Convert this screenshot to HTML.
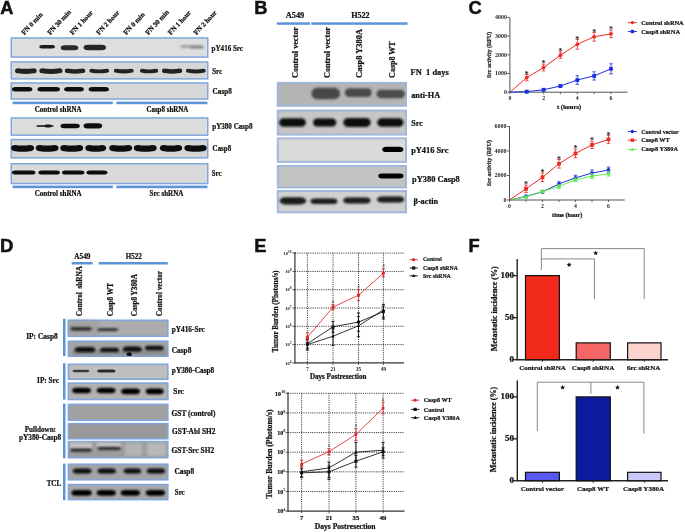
<!DOCTYPE html>
<html><head><meta charset="utf-8"><style>
html,body{margin:0;padding:0;background:#fff;}
svg{display:block;filter:blur(0.3px);}
</style></head><body>
<svg width="685" height="532" viewBox="0 0 685 532">
<defs><filter id="b3" x="-20%" y="-60%" width="140%" height="220%"><feGaussianBlur stdDeviation="0.3"/></filter><filter id="b4" x="-20%" y="-60%" width="140%" height="220%"><feGaussianBlur stdDeviation="0.4"/></filter><filter id="b5" x="-20%" y="-60%" width="140%" height="220%"><feGaussianBlur stdDeviation="0.5"/></filter><filter id="b6" x="-20%" y="-60%" width="140%" height="220%"><feGaussianBlur stdDeviation="0.6"/></filter><filter id="b7" x="-20%" y="-60%" width="140%" height="220%"><feGaussianBlur stdDeviation="0.7"/></filter><filter id="b8" x="-20%" y="-60%" width="140%" height="220%"><feGaussianBlur stdDeviation="0.8"/></filter><filter id="b9" x="-20%" y="-60%" width="140%" height="220%"><feGaussianBlur stdDeviation="0.9"/></filter><filter id="b10" x="-20%" y="-60%" width="140%" height="220%"><feGaussianBlur stdDeviation="1.0"/></filter><filter id="b11" x="-20%" y="-60%" width="140%" height="220%"><feGaussianBlur stdDeviation="1.1"/></filter><filter id="b12" x="-20%" y="-60%" width="140%" height="220%"><feGaussianBlur stdDeviation="1.2"/></filter><filter id="b13" x="-20%" y="-60%" width="140%" height="220%"><feGaussianBlur stdDeviation="1.3"/></filter><filter id="b14" x="-20%" y="-60%" width="140%" height="220%"><feGaussianBlur stdDeviation="1.4"/></filter><filter id="b15" x="-20%" y="-60%" width="140%" height="220%"><feGaussianBlur stdDeviation="1.5"/></filter><filter id="b16" x="-20%" y="-60%" width="140%" height="220%"><feGaussianBlur stdDeviation="1.6"/></filter><filter id="b17" x="-20%" y="-60%" width="140%" height="220%"><feGaussianBlur stdDeviation="1.7"/></filter><filter id="b18" x="-20%" y="-60%" width="140%" height="220%"><feGaussianBlur stdDeviation="1.8"/></filter><filter id="b19" x="-20%" y="-60%" width="140%" height="220%"><feGaussianBlur stdDeviation="1.9"/></filter><filter id="b20" x="-20%" y="-60%" width="140%" height="220%"><feGaussianBlur stdDeviation="2.0"/></filter></defs>
<rect width="685" height="532" fill="#fff"/>
<text x="0.2" y="13.5" font-family="'Liberation Sans', sans-serif" font-size="18.2" font-weight="bold" text-anchor="start" fill="#111" stroke="#111" stroke-width="0.5">A</text>
<text transform="translate(24.2,35.2) rotate(-47)" font-family="'Liberation Serif', serif" font-size="6.9" font-weight="bold" text-anchor="start" fill="#111" stroke="#111" stroke-width="0.22">FN 0 min</text>
<text transform="translate(50.2,35.2) rotate(-47)" font-family="'Liberation Serif', serif" font-size="6.9" font-weight="bold" text-anchor="start" fill="#111" stroke="#111" stroke-width="0.22">FN 30 min</text>
<text transform="translate(72.7,35.2) rotate(-47)" font-family="'Liberation Serif', serif" font-size="6.9" font-weight="bold" text-anchor="start" fill="#111" stroke="#111" stroke-width="0.22">FN 1 hour</text>
<text transform="translate(99.10000000000001,35.2) rotate(-47)" font-family="'Liberation Serif', serif" font-size="6.9" font-weight="bold" text-anchor="start" fill="#111" stroke="#111" stroke-width="0.22">FN 2 hour</text>
<text transform="translate(126.2,35.2) rotate(-47)" font-family="'Liberation Serif', serif" font-size="6.9" font-weight="bold" text-anchor="start" fill="#111" stroke="#111" stroke-width="0.22">FN 0 min</text>
<text transform="translate(148.2,35.2) rotate(-47)" font-family="'Liberation Serif', serif" font-size="6.9" font-weight="bold" text-anchor="start" fill="#111" stroke="#111" stroke-width="0.22">FN 30 min</text>
<text transform="translate(170.79999999999998,35.2) rotate(-47)" font-family="'Liberation Serif', serif" font-size="6.9" font-weight="bold" text-anchor="start" fill="#111" stroke="#111" stroke-width="0.22">FN 1 hour</text>
<text transform="translate(196.5,35.2) rotate(-47)" font-family="'Liberation Serif', serif" font-size="6.9" font-weight="bold" text-anchor="start" fill="#111" stroke="#111" stroke-width="0.22">FN 2 hour</text>
<rect x="11.25" y="37.95" width="196.5" height="19.099999999999994" fill="#dedede" stroke="#80a6dc" stroke-width="1.5"/>
<rect x="39.20" y="45.00" width="15.90" height="3.4" rx="2.72" ry="1.70" fill="#1c1c1c" opacity="1" filter="url(#b6)"/>
<rect x="60.70" y="45.30" width="17.60" height="5.0" rx="4.00" ry="2.50" fill="#2a2a2a" opacity="1" filter="url(#b7)"/>
<rect x="83.60" y="44.70" width="22.40" height="5.6" rx="4.48" ry="2.80" fill="#262626" opacity="1" filter="url(#b7)"/>
<rect x="180.30" y="45.30" width="12.40" height="2.4" rx="1.92" ry="1.20" fill="#9a9a9a" opacity="1" filter="url(#b10)"/>
<rect x="190.30" y="45.50" width="13.40" height="3" rx="2.40" ry="1.50" fill="#808080" opacity="1" filter="url(#b10)"/>
<rect x="11.25" y="61.95" width="196.5" height="16.89999999999999" fill="#d6d6d6" stroke="#80a6dc" stroke-width="1.5"/>
<path d="M18.12,68.15 Q25.85,69.55 33.58,68.15 A3.12,2.60 0 0 1 33.58,73.35 Q25.85,74.75 18.12,73.35 A3.12,2.60 0 0 1 18.12,68.15 Z" fill="#232323" filter="url(#b7)"/>
<path d="M42.30,68.25 Q50.90,69.65 59.50,68.25 A3.00,2.50 0 0 1 59.50,73.25 Q50.90,74.65 42.30,73.25 A3.00,2.50 0 0 1 42.30,68.25 Z" fill="#232323" filter="url(#b7)"/>
<path d="M67.56,68.45 Q75.05,69.85 82.54,68.45 A2.76,2.30 0 0 1 82.54,73.05 Q75.05,74.45 67.56,73.05 A2.76,2.30 0 0 1 67.56,68.45 Z" fill="#232323" filter="url(#b7)"/>
<path d="M91.58,68.85 Q99.25,70.25 106.92,68.85 A2.28,1.90 0 0 1 106.92,72.65 Q99.25,74.05 91.58,72.65 A2.28,1.90 0 0 1 91.58,68.85 Z" fill="#232323" filter="url(#b7)"/>
<path d="M116.32,68.65 Q123.80,70.05 131.28,68.65 A2.52,2.10 0 0 1 131.28,72.85 Q123.80,74.25 116.32,72.85 A2.52,2.10 0 0 1 116.32,68.65 Z" fill="#232323" filter="url(#b7)"/>
<path d="M142.18,68.85 Q149.10,70.25 156.02,68.85 A2.28,1.90 0 0 1 156.02,72.65 Q149.10,74.05 142.18,72.65 A2.28,1.90 0 0 1 142.18,68.85 Z" fill="#232323" filter="url(#b7)"/>
<path d="M164.76,68.45 Q172.10,69.85 179.44,68.45 A2.76,2.30 0 0 1 179.44,73.05 Q172.10,74.45 164.76,73.05 A2.76,2.30 0 0 1 164.76,68.45 Z" fill="#232323" filter="url(#b7)"/>
<path d="M188.30,68.75 Q195.85,70.15 203.40,68.75 A2.40,2.00 0 0 1 203.40,72.75 Q195.85,74.15 188.30,72.75 A2.40,2.00 0 0 1 188.30,68.75 Z" fill="#232323" filter="url(#b7)"/>
<rect x="11.25" y="82.95" width="196.5" height="16.099999999999994" fill="#d8d8d8" stroke="#80a6dc" stroke-width="1.5"/>
<rect x="12.00" y="87.10" width="20.30" height="4.4" rx="3.52" ry="2.20" fill="#0e0e0e" opacity="1" filter="url(#b7)"/>
<rect x="37.50" y="87.10" width="22.40" height="4.4" rx="3.52" ry="2.20" fill="#0e0e0e" opacity="1" filter="url(#b7)"/>
<rect x="64.20" y="87.10" width="19.60" height="4.4" rx="3.52" ry="2.20" fill="#0e0e0e" opacity="1" filter="url(#b7)"/>
<rect x="88.70" y="87.10" width="20.20" height="4.4" rx="3.52" ry="2.20" fill="#0e0e0e" opacity="1" filter="url(#b7)"/>
<rect x="12.6" y="101.6" width="100.2" height="2.6" fill="#5d93d8"/>
<rect x="116.4" y="101.6" width="91" height="2.6" fill="#5d93d8"/>
<text x="58.2" y="112.1" font-family="'Liberation Serif', serif" font-size="7.4" font-weight="bold" text-anchor="middle" fill="#111" textLength="47" lengthAdjust="spacingAndGlyphs" stroke="#111" stroke-width="0.22">Control shRNA</text>
<text x="167.4" y="112.1" font-family="'Liberation Serif', serif" font-size="7.4" font-weight="bold" text-anchor="middle" fill="#111" textLength="42" lengthAdjust="spacingAndGlyphs" stroke="#111" stroke-width="0.22">Casp8 shRNA</text>
<rect x="11.25" y="117.95" width="196.5" height="17.200000000000003" fill="#dcdcdc" stroke="#80a6dc" stroke-width="1.5"/>
<rect x="36.30" y="124.90" width="17.40" height="2.2" rx="1.76" ry="1.10" fill="#3a3a3a" opacity="1" filter="url(#b7)"/>
<rect x="44.30" y="124.60" width="7.40" height="2.8" rx="2.24" ry="1.40" fill="#151515" opacity="1" filter="url(#b7)"/>
<rect x="60.50" y="123.80" width="19.30" height="4.4" rx="3.52" ry="2.20" fill="#111" opacity="1" filter="url(#b6)"/>
<rect x="83.50" y="123.20" width="18.70" height="5.2" rx="4.16" ry="2.60" fill="#0e0e0e" opacity="1" filter="url(#b6)"/>
<rect x="11.25" y="139.55" width="196.5" height="18.299999999999983" fill="#d4d4d4" stroke="#80a6dc" stroke-width="1.5"/>
<path d="M15.44,145.00 Q22.60,146.20 29.76,145.00 A4.34,3.10 0 0 1 29.76,151.20 Q22.60,152.40 15.44,151.20 A4.34,3.10 0 0 1 15.44,145.00 Z" fill="#101010" filter="url(#b7)"/>
<path d="M40.04,145.00 Q47.15,146.20 54.26,145.00 A4.34,3.10 0 0 1 54.26,151.20 Q47.15,152.40 40.04,151.20 A4.34,3.10 0 0 1 40.04,145.00 Z" fill="#101010" filter="url(#b7)"/>
<path d="M64.54,145.00 Q71.70,146.20 78.86,145.00 A4.34,3.10 0 0 1 78.86,151.20 Q71.70,152.40 64.54,151.20 A4.34,3.10 0 0 1 64.54,145.00 Z" fill="#101010" filter="url(#b7)"/>
<path d="M89.64,145.00 Q95.75,146.20 101.86,145.00 A4.34,3.10 0 0 1 101.86,151.20 Q95.75,152.40 89.64,151.20 A4.34,3.10 0 0 1 89.64,145.00 Z" fill="#101010" filter="url(#b7)"/>
<path d="M113.54,145.00 Q120.70,146.20 127.86,145.00 A4.34,3.10 0 0 1 127.86,151.20 Q120.70,152.40 113.54,151.20 A4.34,3.10 0 0 1 113.54,145.00 Z" fill="#101010" filter="url(#b7)"/>
<path d="M138.14,145.00 Q145.25,146.20 152.36,145.00 A4.34,3.10 0 0 1 152.36,151.20 Q145.25,152.40 138.14,151.20 A4.34,3.10 0 0 1 138.14,145.00 Z" fill="#101010" filter="url(#b7)"/>
<path d="M164.14,145.00 Q171.00,146.20 177.86,145.00 A4.34,3.10 0 0 1 177.86,151.20 Q171.00,152.40 164.14,151.20 A4.34,3.10 0 0 1 164.14,145.00 Z" fill="#101010" filter="url(#b7)"/>
<path d="M188.64,145.00 Q195.50,146.20 202.36,145.00 A4.34,3.10 0 0 1 202.36,151.20 Q195.50,152.40 188.64,151.20 A4.34,3.10 0 0 1 188.64,145.00 Z" fill="#101010" filter="url(#b7)"/>
<rect x="11.25" y="163.75" width="196.5" height="19.80000000000001" fill="#dadada" stroke="#80a6dc" stroke-width="1.5"/>
<rect x="12.00" y="170.40" width="23.40" height="4.2" rx="3.36" ry="2.10" fill="#0a0a0a" opacity="1" filter="url(#b6)"/>
<rect x="38.40" y="170.40" width="21.50" height="4.2" rx="3.36" ry="2.10" fill="#0a0a0a" opacity="1" filter="url(#b6)"/>
<rect x="62.00" y="170.40" width="22.40" height="4.2" rx="3.36" ry="2.10" fill="#0a0a0a" opacity="1" filter="url(#b6)"/>
<rect x="86.50" y="170.40" width="20.90" height="4.2" rx="3.36" ry="2.10" fill="#0a0a0a" opacity="1" filter="url(#b6)"/>
<rect x="12.6" y="185.6" width="100.2" height="2.6" fill="#5d93d8"/>
<rect x="116.4" y="185.6" width="91" height="2.6" fill="#5d93d8"/>
<text x="58.2" y="196.2" font-family="'Liberation Serif', serif" font-size="7.4" font-weight="bold" text-anchor="middle" fill="#111" textLength="47" lengthAdjust="spacingAndGlyphs" stroke="#111" stroke-width="0.22">Control shRNA</text>
<text x="166.5" y="196.2" font-family="'Liberation Serif', serif" font-size="7.4" font-weight="bold" text-anchor="middle" fill="#111" textLength="34" lengthAdjust="spacingAndGlyphs" stroke="#111" stroke-width="0.22">Src shRNA</text>
<text x="211.6" y="50.9" font-family="'Liberation Serif', serif" font-size="7.6" font-weight="bold" text-anchor="start" fill="#111" textLength="31.4" lengthAdjust="spacingAndGlyphs" stroke="#111" stroke-width="0.22">pY416 Src</text>
<text x="212.2" y="74.3" font-family="'Liberation Serif', serif" font-size="7.6" font-weight="bold" text-anchor="start" fill="#111" textLength="9.8" lengthAdjust="spacingAndGlyphs" stroke="#111" stroke-width="0.22">Src</text>
<text x="212.6" y="94.3" font-family="'Liberation Serif', serif" font-size="7.6" font-weight="bold" text-anchor="start" fill="#111" textLength="19.2" lengthAdjust="spacingAndGlyphs" stroke="#111" stroke-width="0.22">Casp8</text>
<text x="212.2" y="128.8" font-family="'Liberation Serif', serif" font-size="7.6" font-weight="bold" text-anchor="start" fill="#111" textLength="40.4" lengthAdjust="spacingAndGlyphs" stroke="#111" stroke-width="0.22">pY380 Casp8</text>
<text x="212.6" y="151.2" font-family="'Liberation Serif', serif" font-size="7.6" font-weight="bold" text-anchor="start" fill="#111" textLength="18.6" lengthAdjust="spacingAndGlyphs" stroke="#111" stroke-width="0.22">Casp8</text>
<text x="211.8" y="176.2" font-family="'Liberation Serif', serif" font-size="7.6" font-weight="bold" text-anchor="start" fill="#111" textLength="9.6" lengthAdjust="spacingAndGlyphs" stroke="#111" stroke-width="0.22">Src</text>
<text x="254.2" y="13.7" font-family="'Liberation Sans', sans-serif" font-size="18.3" font-weight="bold" text-anchor="start" fill="#111" stroke="#111" stroke-width="0.5">B</text>
<text x="285.7" y="17.6" font-family="'Liberation Serif', serif" font-size="8" font-weight="bold" text-anchor="start" fill="#111" textLength="18.6" lengthAdjust="spacingAndGlyphs" stroke="#111" stroke-width="0.22">A549</text>
<text x="351.2" y="17.6" font-family="'Liberation Serif', serif" font-size="8" font-weight="bold" text-anchor="start" fill="#111" textLength="18.4" lengthAdjust="spacingAndGlyphs" stroke="#111" stroke-width="0.22">H522</text>
<rect x="276.8" y="22.3" width="33.2" height="2.5" fill="#5d93d8"/>
<rect x="311.3" y="22.3" width="96.2" height="2.5" fill="#5d93d8"/>
<text transform="translate(298,77.9) rotate(-90)" font-family="'Liberation Serif', serif" font-size="8.2" font-weight="bold" text-anchor="start" fill="#111" textLength="50.8" lengthAdjust="spacingAndGlyphs" stroke="#111" stroke-width="0.22">Control vector</text>
<text transform="translate(330.3,77.9) rotate(-90)" font-family="'Liberation Serif', serif" font-size="8.2" font-weight="bold" text-anchor="start" fill="#111" textLength="50.8" lengthAdjust="spacingAndGlyphs" stroke="#111" stroke-width="0.22">Control vector</text>
<text transform="translate(362.3,77.9) rotate(-90)" font-family="'Liberation Serif', serif" font-size="8.2" font-weight="bold" text-anchor="start" fill="#111" textLength="48.9" lengthAdjust="spacingAndGlyphs" stroke="#111" stroke-width="0.22">Casp8 Y380A</text>
<text transform="translate(394.5,77.9) rotate(-90)" font-family="'Liberation Serif', serif" font-size="8.2" font-weight="bold" text-anchor="start" fill="#111" textLength="36.6" lengthAdjust="spacingAndGlyphs" stroke="#111" stroke-width="0.22">Casp8 WT</text>
<text x="410.6" y="74.6" font-family="'Liberation Serif', serif" font-size="7.8" font-weight="bold" text-anchor="start" fill="#111" textLength="38.2" lengthAdjust="spacingAndGlyphs" stroke="#111" stroke-width="0.22">FN  1 days</text>
<rect x="277.75" y="82.85000000000001" width="128.29999999999998" height="22.999999999999993" fill="#b4b4b4" stroke="#9fb7da" stroke-width="1.9"/>
<rect x="311.40" y="87.70" width="28.70" height="11.6" rx="5.80" ry="5.80" fill="#474747" opacity="1" filter="url(#b8)"/>
<rect x="344.90" y="88.30" width="26.80" height="8.8" rx="4.40" ry="4.40" fill="#4a4a4a" opacity="1" filter="url(#b8)"/>
<rect x="376.50" y="89.80" width="28.40" height="8.4" rx="4.20" ry="4.20" fill="#4c4c4c" opacity="1" filter="url(#b8)"/>
<rect x="277.75" y="110.55" width="128.29999999999998" height="24.1" fill="#c6c6c6" stroke="#9fb7da" stroke-width="1.9"/>
<rect x="279.10" y="118.20" width="26.80" height="8.6" rx="4.73" ry="4.30" fill="#0a0a0a" opacity="1" filter="url(#b9)"/>
<rect x="313.10" y="118.40" width="23.20" height="8.2" rx="4.51" ry="4.10" fill="#0a0a0a" opacity="1" filter="url(#b9)"/>
<rect x="343.30" y="117.90" width="27.40" height="9.2" rx="5.06" ry="4.60" fill="#0a0a0a" opacity="1" filter="url(#b9)"/>
<rect x="377.20" y="118.20" width="26.30" height="8.6" rx="4.73" ry="4.30" fill="#0a0a0a" opacity="1" filter="url(#b9)"/>
<rect x="277.75" y="138.35" width="128.29999999999998" height="23.500000000000007" fill="#dadada" stroke="#9fb7da" stroke-width="1.9"/>
<rect x="382.30" y="146.80" width="21.00" height="5.2" rx="4.16" ry="2.60" fill="#050505" opacity="1" filter="url(#b7)"/>
<rect x="277.75" y="165.95" width="128.29999999999998" height="21.6" fill="#c3c3c3" stroke="#9fb7da" stroke-width="1.9"/>
<rect x="378.30" y="173.60" width="25.20" height="4.8" rx="3.84" ry="2.40" fill="#050505" opacity="1" filter="url(#b7)"/>
<rect x="277.75" y="190.95" width="128.29999999999998" height="21.400000000000013" fill="#d0d0d0" stroke="#9fb7da" stroke-width="1.9"/>
<rect x="279.60" y="197.20" width="26.60" height="7.2" rx="5.76" ry="3.60" fill="#1a1a1a" opacity="1" filter="url(#b10)"/>
<rect x="310.50" y="198.40" width="26.90" height="5.6" rx="4.48" ry="2.80" fill="#1a1a1a" opacity="1" filter="url(#b10)"/>
<rect x="343.30" y="197.40" width="27.20" height="6" rx="4.80" ry="3.00" fill="#1a1a1a" opacity="1" filter="url(#b10)"/>
<rect x="377.20" y="196.40" width="26.90" height="6" rx="4.80" ry="3.00" fill="#1a1a1a" opacity="1" filter="url(#b10)"/>
<text x="411.2" y="97.9" font-family="'Liberation Serif', serif" font-size="7.9" font-weight="bold" text-anchor="start" fill="#111" textLength="29" lengthAdjust="spacingAndGlyphs" stroke="#111" stroke-width="0.22">anti-HA</text>
<text x="411.2" y="125.6" font-family="'Liberation Serif', serif" font-size="7.9" font-weight="bold" text-anchor="start" fill="#111" textLength="11.6" lengthAdjust="spacingAndGlyphs" stroke="#111" stroke-width="0.22">Src</text>
<text x="411.2" y="152.8" font-family="'Liberation Serif', serif" font-size="7.9" font-weight="bold" text-anchor="start" fill="#111" textLength="37.2" lengthAdjust="spacingAndGlyphs" stroke="#111" stroke-width="0.22">pY416 Src</text>
<text x="412.1" y="182.4" font-family="'Liberation Serif', serif" font-size="7.9" font-weight="bold" text-anchor="start" fill="#111" textLength="47.7" lengthAdjust="spacingAndGlyphs" stroke="#111" stroke-width="0.22">pY380 Casp8</text>
<text x="413.5" y="203.6" font-family="'Liberation Serif', serif" font-size="7.9" font-weight="bold" text-anchor="start" fill="#111" textLength="24.6" lengthAdjust="spacingAndGlyphs" stroke="#111" stroke-width="0.22">β-actin</text>
<text x="-0.1" y="251.6" font-family="'Liberation Sans', sans-serif" font-size="18.5" font-weight="bold" text-anchor="start" fill="#111" stroke="#111" stroke-width="0.5">D</text>
<text x="74.3" y="259.3" font-family="'Liberation Serif', serif" font-size="7.3" font-weight="bold" text-anchor="start" fill="#111" textLength="16.1" lengthAdjust="spacingAndGlyphs" stroke="#111" stroke-width="0.22">A549</text>
<text x="125.7" y="259.3" font-family="'Liberation Serif', serif" font-size="7.3" font-weight="bold" text-anchor="start" fill="#111" textLength="16.1" lengthAdjust="spacingAndGlyphs" stroke="#111" stroke-width="0.22">H522</text>
<rect x="71.7" y="262" width="20.9" height="2.5" fill="#5d93d8"/>
<rect x="98.7" y="262" width="69.1" height="2.5" fill="#5d93d8"/>
<text transform="translate(81.9,316.2) rotate(-90)" font-family="'Liberation Serif', serif" font-size="7.2" font-weight="bold" text-anchor="start" fill="#111" textLength="50.2" lengthAdjust="spacingAndGlyphs" stroke="#111" stroke-width="0.22">Control  shRNA</text>
<text transform="translate(112.7,316.2) rotate(-90)" font-family="'Liberation Serif', serif" font-size="7.2" font-weight="bold" text-anchor="start" fill="#111" textLength="33.3" lengthAdjust="spacingAndGlyphs" stroke="#111" stroke-width="0.22">Casp8 WT</text>
<text transform="translate(136.7,316.2) rotate(-90)" font-family="'Liberation Serif', serif" font-size="7.2" font-weight="bold" text-anchor="start" fill="#111" textLength="42.1" lengthAdjust="spacingAndGlyphs" stroke="#111" stroke-width="0.22">Casp8 Y380A</text>
<text transform="translate(161.7,316.2) rotate(-90)" font-family="'Liberation Serif', serif" font-size="7.2" font-weight="bold" text-anchor="start" fill="#111" textLength="45.3" lengthAdjust="spacingAndGlyphs" stroke="#111" stroke-width="0.22">Control vector</text>
<rect x="63" y="318.7" width="2.5" height="37.30000000000001" fill="#5d93d8"/>
<rect x="63" y="363.2" width="2.5" height="36.400000000000034" fill="#5d93d8"/>
<rect x="63" y="403.6" width="2.5" height="54.69999999999999" fill="#5d93d8"/>
<rect x="63" y="463.6" width="2.5" height="36.69999999999999" fill="#5d93d8"/>
<rect x="68.39999999999999" y="320.3" width="99.4" height="15.9" fill="#acacac" stroke="#80a6db" stroke-width="1.6"/>
<rect x="69" y="321" width="30" height="14" fill="#9a9a9a" filter="url(#b20)" opacity="0.6"/>
<rect x="70.40" y="326.90" width="21.40" height="3.8" rx="3.04" ry="1.90" fill="#333" opacity="1" filter="url(#b9)"/>
<rect x="97.20" y="327.90" width="21.00" height="3.4" rx="2.72" ry="1.70" fill="#3a3a3a" opacity="1" filter="url(#b9)"/>
<rect x="68.39999999999999" y="341.2" width="99.4" height="15.000000000000023" fill="#a4a4a4" stroke="#80a6db" stroke-width="1.6"/>
<rect x="72" y="350" width="95" height="5" fill="#7a7a7a" filter="url(#b15)" opacity="0.6"/>
<rect x="74.70" y="347.10" width="20.50" height="5.2" rx="4.16" ry="2.60" fill="#0a0a0a" opacity="1" filter="url(#b9)"/>
<rect x="100.00" y="347.70" width="18.90" height="4.4" rx="3.52" ry="2.20" fill="#0a0a0a" opacity="1" filter="url(#b9)"/>
<rect x="122.90" y="346.60" width="18.80" height="5.2" rx="4.16" ry="2.60" fill="#0a0a0a" opacity="1" filter="url(#b9)"/>
<ellipse cx="129.3" cy="354.2" rx="2.6" ry="1.9" fill="#111" opacity="1" filter="url(#b6)"/>
<rect x="144.90" y="345.70" width="18.80" height="4.6" rx="3.68" ry="2.30" fill="#0a0a0a" opacity="1" filter="url(#b9)"/>
<rect x="68.39999999999999" y="364.3" width="99.4" height="14.9" fill="#bebebe" stroke="#80a6db" stroke-width="1.6"/>
<rect x="72.60" y="369.85" width="16.70" height="2.3" rx="1.84" ry="1.15" fill="#3a3a3a" opacity="1" filter="url(#b7)"/>
<rect x="97.20" y="369.40" width="18.30" height="3.2" rx="2.56" ry="1.60" fill="#2c2c2c" opacity="1" filter="url(#b7)"/>
<rect x="68.39999999999999" y="383.1" width="99.4" height="16.4" fill="#b2b2b2" stroke="#80a6db" stroke-width="1.6"/>
<rect x="72.10" y="387.70" width="18.90" height="5.6" rx="4.48" ry="2.80" fill="#050505" opacity="1" filter="url(#b9)"/>
<rect x="96.70" y="387.70" width="18.80" height="5.6" rx="4.48" ry="2.80" fill="#050505" opacity="1" filter="url(#b9)"/>
<rect x="121.20" y="388.60" width="18.80" height="5.6" rx="4.48" ry="2.80" fill="#050505" opacity="1" filter="url(#b9)"/>
<rect x="145.70" y="388.60" width="18.00" height="5.6" rx="4.48" ry="2.80" fill="#050505" opacity="1" filter="url(#b9)"/>
<rect x="68.39999999999999" y="404.40000000000003" width="99.4" height="15.799999999999978" fill="#a2a2a2" stroke="#80a6db" stroke-width="1.6"/>
<rect x="68.39999999999999" y="423.6" width="99.4" height="15.200000000000012" fill="#999999" stroke="#80a6db" stroke-width="1.6"/>
<rect x="68.39999999999999" y="441.6" width="99.4" height="16.099999999999987" fill="#9c9c9c" stroke="#80a6db" stroke-width="1.6"/>
<rect x="70" y="442.5" width="22" height="6.5" fill="#c2c2c2" filter="url(#b10)"/>
<rect x="97" y="442.5" width="24" height="5" fill="#c4c4c4" filter="url(#b10)"/>
<rect x="125" y="443" width="17" height="13" fill="#b4b4b4" filter="url(#b15)"/>
<rect x="147" y="443" width="19" height="13" fill="#b8b8b8" filter="url(#b15)"/>
<rect x="70.30" y="448.60" width="21.60" height="3.2" rx="2.56" ry="1.60" fill="#2a2a2a" opacity="1" filter="url(#b9)"/>
<rect x="97.50" y="447.10" width="23.50" height="3.0" rx="2.40" ry="1.50" fill="#2a2a2a" opacity="1" filter="url(#b9)"/>
<rect x="68.39999999999999" y="464.2" width="99.4" height="15.600000000000046" fill="#a4a4a4" stroke="#80a6db" stroke-width="1.6"/>
<rect x="72.80" y="468.50" width="18.70" height="5.0" rx="4.00" ry="2.50" fill="#0a0a0a" opacity="1" filter="url(#b9)"/>
<rect x="97.50" y="468.50" width="18.50" height="5.0" rx="4.00" ry="2.50" fill="#0a0a0a" opacity="1" filter="url(#b9)"/>
<rect x="123.60" y="468.50" width="17.50" height="5.0" rx="4.00" ry="2.50" fill="#0a0a0a" opacity="1" filter="url(#b9)"/>
<rect x="146.70" y="468.50" width="18.50" height="5.0" rx="4.00" ry="2.50" fill="#0a0a0a" opacity="1" filter="url(#b9)"/>
<rect x="68.39999999999999" y="484.6" width="99.4" height="14.999999999999966" fill="#a8a8a8" stroke="#80a6db" stroke-width="1.6"/>
<rect x="71.30" y="489.90" width="20.60" height="5.8" rx="4.64" ry="2.90" fill="#050505" opacity="1" filter="url(#b9)"/>
<rect x="96.50" y="489.90" width="19.50" height="5.8" rx="4.64" ry="2.90" fill="#050505" opacity="1" filter="url(#b9)"/>
<rect x="120.60" y="489.90" width="19.50" height="5.8" rx="4.64" ry="2.90" fill="#050505" opacity="1" filter="url(#b9)"/>
<rect x="145.70" y="489.90" width="19.50" height="5.8" rx="4.64" ry="2.90" fill="#050505" opacity="1" filter="url(#b9)"/>
<text x="171.8" y="332" font-family="'Liberation Serif', serif" font-size="7.5" font-weight="bold" text-anchor="start" fill="#111" textLength="33" lengthAdjust="spacingAndGlyphs" stroke="#111" stroke-width="0.22">pY416-Src</text>
<text x="171.8" y="352.8" font-family="'Liberation Serif', serif" font-size="7.5" font-weight="bold" text-anchor="start" fill="#111" textLength="19.5" lengthAdjust="spacingAndGlyphs" stroke="#111" stroke-width="0.22">Casp8</text>
<text x="171.8" y="373.4" font-family="'Liberation Serif', serif" font-size="7.5" font-weight="bold" text-anchor="start" fill="#111" textLength="42.5" lengthAdjust="spacingAndGlyphs" stroke="#111" stroke-width="0.22">pY380-Casp8</text>
<text x="173.3" y="393.7" font-family="'Liberation Serif', serif" font-size="7.5" font-weight="bold" text-anchor="start" fill="#111" textLength="10.5" lengthAdjust="spacingAndGlyphs" stroke="#111" stroke-width="0.22">Src</text>
<text x="171.6" y="416" font-family="'Liberation Serif', serif" font-size="7.5" font-weight="bold" text-anchor="start" fill="#111" textLength="43.8" lengthAdjust="spacingAndGlyphs" stroke="#111" stroke-width="0.22">GST (control)</text>
<text x="172.1" y="433.8" font-family="'Liberation Serif', serif" font-size="7.5" font-weight="bold" text-anchor="start" fill="#111" textLength="43.3" lengthAdjust="spacingAndGlyphs" stroke="#111" stroke-width="0.22">GST-Abl SH2</text>
<text x="171.6" y="452.6" font-family="'Liberation Serif', serif" font-size="7.5" font-weight="bold" text-anchor="start" fill="#111" textLength="42.6" lengthAdjust="spacingAndGlyphs" stroke="#111" stroke-width="0.22">GST-Src SH2</text>
<text x="174.4" y="473.7" font-family="'Liberation Serif', serif" font-size="7.5" font-weight="bold" text-anchor="start" fill="#111" textLength="19.7" lengthAdjust="spacingAndGlyphs" stroke="#111" stroke-width="0.22">Casp8</text>
<text x="174.8" y="494.9" font-family="'Liberation Serif', serif" font-size="7.5" font-weight="bold" text-anchor="start" fill="#111" textLength="9.9" lengthAdjust="spacingAndGlyphs" stroke="#111" stroke-width="0.22">Src</text>
<text x="26.2" y="338.8" font-family="'Liberation Serif', serif" font-size="7.5" font-weight="bold" text-anchor="start" fill="#111" textLength="31.6" lengthAdjust="spacingAndGlyphs" stroke="#111" stroke-width="0.22">IP: Casp8</text>
<text x="37.1" y="383.2" font-family="'Liberation Serif', serif" font-size="7.5" font-weight="bold" text-anchor="start" fill="#111" textLength="21.8" lengthAdjust="spacingAndGlyphs" stroke="#111" stroke-width="0.22">IP: Src</text>
<text x="24.7" y="432" font-family="'Liberation Serif', serif" font-size="7.5" font-weight="bold" text-anchor="start" fill="#111" textLength="31.3" lengthAdjust="spacingAndGlyphs" stroke="#111" stroke-width="0.22">Pulldown:</text>
<text x="19" y="440.4" font-family="'Liberation Serif', serif" font-size="7.5" font-weight="bold" text-anchor="start" fill="#111" textLength="42.1" lengthAdjust="spacingAndGlyphs" stroke="#111" stroke-width="0.22">pY380-Casp8</text>
<text x="46.7" y="485.5" font-family="'Liberation Serif', serif" font-size="7.5" font-weight="bold" text-anchor="start" fill="#111" textLength="14.4" lengthAdjust="spacingAndGlyphs" stroke="#111" stroke-width="0.22">TCL</text>
<text x="468.6" y="13.6" font-family="'Liberation Sans', sans-serif" font-size="18.3" font-weight="bold" text-anchor="start" fill="#111" stroke="#111" stroke-width="0.5">C</text>
<line x1="509.9" y1="17.5" x2="509.9" y2="92.7" stroke="#333" stroke-width="0.85"/>
<line x1="509.4" y1="92.2" x2="627.5" y2="92.2" stroke="#333" stroke-width="0.85"/>
<line x1="507.09999999999997" y1="92.2" x2="509.9" y2="92.2" stroke="#444" stroke-width="0.8"/>
<text x="506.9" y="93.9" font-family="'Liberation Serif', serif" font-size="5.2" font-weight="bold" text-anchor="end" fill="#222" textLength="3.0" lengthAdjust="spacingAndGlyphs">0</text>
<line x1="507.09999999999997" y1="73.5" x2="509.9" y2="73.5" stroke="#444" stroke-width="0.8"/>
<text x="506.9" y="75.2" font-family="'Liberation Serif', serif" font-size="5.2" font-weight="bold" text-anchor="end" fill="#222" textLength="12.0" lengthAdjust="spacingAndGlyphs">1000</text>
<line x1="507.09999999999997" y1="54.8" x2="509.9" y2="54.8" stroke="#444" stroke-width="0.8"/>
<text x="506.9" y="56.5" font-family="'Liberation Serif', serif" font-size="5.2" font-weight="bold" text-anchor="end" fill="#222" textLength="12.0" lengthAdjust="spacingAndGlyphs">2000</text>
<line x1="507.09999999999997" y1="36.1" x2="509.9" y2="36.1" stroke="#444" stroke-width="0.8"/>
<text x="506.9" y="37.800000000000004" font-family="'Liberation Serif', serif" font-size="5.2" font-weight="bold" text-anchor="end" fill="#222" textLength="12.0" lengthAdjust="spacingAndGlyphs">3000</text>
<line x1="507.09999999999997" y1="17.39999999999999" x2="509.9" y2="17.39999999999999" stroke="#444" stroke-width="0.8"/>
<text x="506.9" y="19.09999999999999" font-family="'Liberation Serif', serif" font-size="5.2" font-weight="bold" text-anchor="end" fill="#222" textLength="12.0" lengthAdjust="spacingAndGlyphs">4000</text>
<line x1="509.9" y1="92.2" x2="509.9" y2="94.2" stroke="#444" stroke-width="0.8"/>
<text x="509.9" y="100.10000000000001" font-family="'Liberation Serif', serif" font-size="5.2" font-weight="bold" text-anchor="middle" fill="#222" textLength="2.9" lengthAdjust="spacingAndGlyphs">0</text>
<line x1="526.75" y1="92.2" x2="526.75" y2="94.2" stroke="#444" stroke-width="0.8"/>
<line x1="543.6" y1="92.2" x2="543.6" y2="94.2" stroke="#444" stroke-width="0.8"/>
<text x="543.6" y="100.10000000000001" font-family="'Liberation Serif', serif" font-size="5.2" font-weight="bold" text-anchor="middle" fill="#222" textLength="2.9" lengthAdjust="spacingAndGlyphs">2</text>
<line x1="560.4499999999999" y1="92.2" x2="560.4499999999999" y2="94.2" stroke="#444" stroke-width="0.8"/>
<line x1="577.3" y1="92.2" x2="577.3" y2="94.2" stroke="#444" stroke-width="0.8"/>
<text x="577.3" y="100.10000000000001" font-family="'Liberation Serif', serif" font-size="5.2" font-weight="bold" text-anchor="middle" fill="#222" textLength="2.9" lengthAdjust="spacingAndGlyphs">4</text>
<line x1="594.15" y1="92.2" x2="594.15" y2="94.2" stroke="#444" stroke-width="0.8"/>
<line x1="611.0" y1="92.2" x2="611.0" y2="94.2" stroke="#444" stroke-width="0.8"/>
<text x="611.0" y="100.10000000000001" font-family="'Liberation Serif', serif" font-size="5.2" font-weight="bold" text-anchor="middle" fill="#222" textLength="2.9" lengthAdjust="spacingAndGlyphs">6</text>
<text x="556.9" y="108.7" font-family="'Liberation Serif', serif" font-size="6.5" font-weight="bold" text-anchor="start" fill="#111" textLength="24.3" lengthAdjust="spacingAndGlyphs" stroke="#111" stroke-width="0.22">t (hours)</text>
<text transform="translate(490.6,54.9) rotate(-90)" font-family="'Liberation Serif', serif" font-size="6.6" font-weight="bold" text-anchor="middle" fill="#222" textLength="46.2" lengthAdjust="spacingAndGlyphs" stroke="#222" stroke-width="0.22">Src activity (RFU)</text>
<polyline points="509.9,92.2 526.8,77.6 543.6,67.5 560.4,55.2 577.3,44.3 594.1,36.8 611.0,33.9" fill="none" stroke="#ee2a24" stroke-width="1.0"/>
<line x1="526.75" y1="74.435" x2="526.75" y2="80.793" stroke="#ee2a24" stroke-width="0.8"/>
<line x1="524.95" y1="74.435" x2="528.55" y2="74.435" stroke="#ee2a24" stroke-width="0.8"/>
<line x1="524.95" y1="80.793" x2="528.55" y2="80.793" stroke="#ee2a24" stroke-width="0.8"/>
<line x1="543.6" y1="64.15" x2="543.6" y2="70.882" stroke="#ee2a24" stroke-width="0.8"/>
<line x1="541.8000000000001" y1="64.15" x2="545.4" y2="64.15" stroke="#ee2a24" stroke-width="0.8"/>
<line x1="541.8000000000001" y1="70.882" x2="545.4" y2="70.882" stroke="#ee2a24" stroke-width="0.8"/>
<line x1="560.4499999999999" y1="51.995" x2="560.4499999999999" y2="58.353" stroke="#ee2a24" stroke-width="0.8"/>
<line x1="558.65" y1="51.995" x2="562.2499999999999" y2="51.995" stroke="#ee2a24" stroke-width="0.8"/>
<line x1="558.65" y1="58.353" x2="562.2499999999999" y2="58.353" stroke="#ee2a24" stroke-width="0.8"/>
<line x1="577.3" y1="39.466" x2="577.3" y2="49.190000000000005" stroke="#ee2a24" stroke-width="0.8"/>
<line x1="575.5" y1="39.466" x2="579.0999999999999" y2="39.466" stroke="#ee2a24" stroke-width="0.8"/>
<line x1="575.5" y1="49.190000000000005" x2="579.0999999999999" y2="49.190000000000005" stroke="#ee2a24" stroke-width="0.8"/>
<line x1="594.15" y1="32.547" x2="594.15" y2="41.149" stroke="#ee2a24" stroke-width="0.8"/>
<line x1="592.35" y1="32.547" x2="595.9499999999999" y2="32.547" stroke="#ee2a24" stroke-width="0.8"/>
<line x1="592.35" y1="41.149" x2="595.9499999999999" y2="41.149" stroke="#ee2a24" stroke-width="0.8"/>
<line x1="611.0" y1="30.116" x2="611.0" y2="37.596000000000004" stroke="#ee2a24" stroke-width="0.8"/>
<line x1="609.2" y1="30.116" x2="612.8" y2="30.116" stroke="#ee2a24" stroke-width="0.8"/>
<line x1="609.2" y1="37.596000000000004" x2="612.8" y2="37.596000000000004" stroke="#ee2a24" stroke-width="0.8"/>
<circle cx="526.75" cy="77.61" r="1.9" fill="#ee2a24"/>
<circle cx="543.60" cy="67.52" r="1.9" fill="#ee2a24"/>
<circle cx="560.45" cy="55.17" r="1.9" fill="#ee2a24"/>
<circle cx="577.30" cy="44.33" r="1.9" fill="#ee2a24"/>
<circle cx="594.15" cy="36.85" r="1.9" fill="#ee2a24"/>
<circle cx="611.00" cy="33.86" r="1.9" fill="#ee2a24"/>
<text x="526.75" y="76.635" font-family="'Liberation Serif', serif" font-size="8" font-weight="bold" text-anchor="middle" fill="#222">*</text>
<text x="543.6" y="66.35000000000001" font-family="'Liberation Serif', serif" font-size="8" font-weight="bold" text-anchor="middle" fill="#222">*</text>
<text x="560.4499999999999" y="54.195" font-family="'Liberation Serif', serif" font-size="8" font-weight="bold" text-anchor="middle" fill="#222">*</text>
<text x="577.3" y="41.666000000000004" font-family="'Liberation Serif', serif" font-size="8" font-weight="bold" text-anchor="middle" fill="#222">*</text>
<text x="594.15" y="34.747" font-family="'Liberation Serif', serif" font-size="8" font-weight="bold" text-anchor="middle" fill="#222">*</text>
<text x="611.0" y="32.316" font-family="'Liberation Serif', serif" font-size="8" font-weight="bold" text-anchor="middle" fill="#222">*</text>
<polyline points="509.9,92.2 526.8,91.6 543.6,89.8 560.4,86.0 577.3,80.0 594.1,75.9 611.0,68.8" fill="none" stroke="#1f2fe0" stroke-width="1.0"/>
<line x1="526.75" y1="90.89099999999999" x2="526.75" y2="92.387" stroke="#1f2fe0" stroke-width="0.8"/>
<line x1="524.95" y1="90.89099999999999" x2="528.55" y2="90.89099999999999" stroke="#1f2fe0" stroke-width="0.8"/>
<line x1="524.95" y1="92.387" x2="528.55" y2="92.387" stroke="#1f2fe0" stroke-width="0.8"/>
<line x1="543.6" y1="88.647" x2="543.6" y2="90.891" stroke="#1f2fe0" stroke-width="0.8"/>
<line x1="541.8000000000001" y1="88.647" x2="545.4" y2="88.647" stroke="#1f2fe0" stroke-width="0.8"/>
<line x1="541.8000000000001" y1="90.891" x2="545.4" y2="90.891" stroke="#1f2fe0" stroke-width="0.8"/>
<line x1="560.4499999999999" y1="84.907" x2="560.4499999999999" y2="87.151" stroke="#1f2fe0" stroke-width="0.8"/>
<line x1="558.65" y1="84.907" x2="562.2499999999999" y2="84.907" stroke="#1f2fe0" stroke-width="0.8"/>
<line x1="558.65" y1="87.151" x2="562.2499999999999" y2="87.151" stroke="#1f2fe0" stroke-width="0.8"/>
<line x1="577.3" y1="75.744" x2="577.3" y2="84.346" stroke="#1f2fe0" stroke-width="0.8"/>
<line x1="575.5" y1="75.744" x2="579.0999999999999" y2="75.744" stroke="#1f2fe0" stroke-width="0.8"/>
<line x1="575.5" y1="84.346" x2="579.0999999999999" y2="84.346" stroke="#1f2fe0" stroke-width="0.8"/>
<line x1="594.15" y1="71.817" x2="594.15" y2="80.045" stroke="#1f2fe0" stroke-width="0.8"/>
<line x1="592.35" y1="71.817" x2="595.9499999999999" y2="71.817" stroke="#1f2fe0" stroke-width="0.8"/>
<line x1="592.35" y1="80.045" x2="595.9499999999999" y2="80.045" stroke="#1f2fe0" stroke-width="0.8"/>
<line x1="611.0" y1="63.776" x2="611.0" y2="73.87400000000001" stroke="#1f2fe0" stroke-width="0.8"/>
<line x1="609.2" y1="63.776" x2="612.8" y2="63.776" stroke="#1f2fe0" stroke-width="0.8"/>
<line x1="609.2" y1="73.87400000000001" x2="612.8" y2="73.87400000000001" stroke="#1f2fe0" stroke-width="0.8"/>
<rect x="524.85" y="89.74" width="3.8" height="3.8" fill="#1f2fe0"/>
<rect x="541.7" y="87.87" width="3.8" height="3.8" fill="#1f2fe0"/>
<rect x="558.55" y="84.13" width="3.8" height="3.8" fill="#1f2fe0"/>
<rect x="575.4" y="78.14" width="3.8" height="3.8" fill="#1f2fe0"/>
<rect x="592.25" y="74.03" width="3.8" height="3.8" fill="#1f2fe0"/>
<rect x="609.1" y="66.92" width="3.8" height="3.8" fill="#1f2fe0"/>
<line x1="627.8" y1="22.6" x2="637" y2="22.6" stroke="#ee2a24" stroke-width="0.9"/>
<circle cx="632.40" cy="22.60" r="1.7" fill="#ee2a24"/>
<text x="641.2" y="24.8" font-family="'Liberation Serif', serif" font-size="6.9" font-weight="bold" text-anchor="start" fill="#111" textLength="42.5" lengthAdjust="spacingAndGlyphs" stroke="#111" stroke-width="0.22">Control shRNA</text>
<line x1="627.8" y1="31.5" x2="637" y2="31.5" stroke="#1f2fe0" stroke-width="0.9"/>
<rect x="630.7" y="29.8" width="3.4" height="3.4" fill="#1f2fe0"/>
<text x="641.2" y="33.6" font-family="'Liberation Serif', serif" font-size="6.9" font-weight="bold" text-anchor="start" fill="#111" textLength="38.9" lengthAdjust="spacingAndGlyphs" stroke="#111" stroke-width="0.22">Casp8 shRNA</text>
<line x1="509.5" y1="126.4" x2="509.5" y2="200.5" stroke="#333" stroke-width="0.85"/>
<line x1="509.0" y1="200" x2="624.8" y2="200" stroke="#333" stroke-width="0.85"/>
<line x1="506.7" y1="200.0" x2="509.5" y2="200.0" stroke="#444" stroke-width="0.8"/>
<text x="506.5" y="201.7" font-family="'Liberation Serif', serif" font-size="5.2" font-weight="bold" text-anchor="end" fill="#222" textLength="3.0" lengthAdjust="spacingAndGlyphs">0</text>
<line x1="506.7" y1="175.5" x2="509.5" y2="175.5" stroke="#444" stroke-width="0.8"/>
<text x="506.5" y="177.2" font-family="'Liberation Serif', serif" font-size="5.2" font-weight="bold" text-anchor="end" fill="#222" textLength="12.0" lengthAdjust="spacingAndGlyphs">2000</text>
<line x1="506.7" y1="151.0" x2="509.5" y2="151.0" stroke="#444" stroke-width="0.8"/>
<text x="506.5" y="152.7" font-family="'Liberation Serif', serif" font-size="5.2" font-weight="bold" text-anchor="end" fill="#222" textLength="12.0" lengthAdjust="spacingAndGlyphs">4000</text>
<line x1="506.7" y1="126.5" x2="509.5" y2="126.5" stroke="#444" stroke-width="0.8"/>
<text x="506.5" y="128.2" font-family="'Liberation Serif', serif" font-size="5.2" font-weight="bold" text-anchor="end" fill="#222" textLength="12.0" lengthAdjust="spacingAndGlyphs">6000</text>
<line x1="509.5" y1="200" x2="509.5" y2="202" stroke="#444" stroke-width="0.8"/>
<text x="509.5" y="207.9" font-family="'Liberation Serif', serif" font-size="5.2" font-weight="bold" text-anchor="middle" fill="#222" textLength="2.9" lengthAdjust="spacingAndGlyphs">0</text>
<line x1="526.0" y1="200" x2="526.0" y2="202" stroke="#444" stroke-width="0.8"/>
<line x1="542.5" y1="200" x2="542.5" y2="202" stroke="#444" stroke-width="0.8"/>
<text x="542.5" y="207.9" font-family="'Liberation Serif', serif" font-size="5.2" font-weight="bold" text-anchor="middle" fill="#222" textLength="2.9" lengthAdjust="spacingAndGlyphs">2</text>
<line x1="559.0" y1="200" x2="559.0" y2="202" stroke="#444" stroke-width="0.8"/>
<line x1="575.5" y1="200" x2="575.5" y2="202" stroke="#444" stroke-width="0.8"/>
<text x="575.5" y="207.9" font-family="'Liberation Serif', serif" font-size="5.2" font-weight="bold" text-anchor="middle" fill="#222" textLength="2.9" lengthAdjust="spacingAndGlyphs">4</text>
<line x1="592.0" y1="200" x2="592.0" y2="202" stroke="#444" stroke-width="0.8"/>
<line x1="608.5" y1="200" x2="608.5" y2="202" stroke="#444" stroke-width="0.8"/>
<text x="608.5" y="207.9" font-family="'Liberation Serif', serif" font-size="5.2" font-weight="bold" text-anchor="middle" fill="#222" textLength="2.9" lengthAdjust="spacingAndGlyphs">6</text>
<text x="552.1" y="217" font-family="'Liberation Serif', serif" font-size="6.5" font-weight="bold" text-anchor="start" fill="#111" textLength="30.3" lengthAdjust="spacingAndGlyphs" stroke="#111" stroke-width="0.22">time (hour)</text>
<text transform="translate(491,163.2) rotate(-90)" font-family="'Liberation Serif', serif" font-size="6.6" font-weight="bold" text-anchor="middle" fill="#222" textLength="46.2" lengthAdjust="spacingAndGlyphs" stroke="#222" stroke-width="0.22">Src activity (RFU)</text>
<polyline points="509.5,200.0 526.0,196.4 542.5,191.8 559.0,183.9 575.5,177.9 592.0,173.1 608.5,170.0" fill="none" stroke="#1f2fe0" stroke-width="1.0"/>
<line x1="526.0" y1="195.17350000000002" x2="526.0" y2="197.6235" stroke="#1f2fe0" stroke-width="0.8"/>
<line x1="524.2" y1="195.17350000000002" x2="527.8" y2="195.17350000000002" stroke="#1f2fe0" stroke-width="0.8"/>
<line x1="524.2" y1="197.6235" x2="527.8" y2="197.6235" stroke="#1f2fe0" stroke-width="0.8"/>
<line x1="542.5" y1="190.5675" x2="542.5" y2="193.01749999999998" stroke="#1f2fe0" stroke-width="0.8"/>
<line x1="540.7" y1="190.5675" x2="544.3" y2="190.5675" stroke="#1f2fe0" stroke-width="0.8"/>
<line x1="540.7" y1="193.01749999999998" x2="544.3" y2="193.01749999999998" stroke="#1f2fe0" stroke-width="0.8"/>
<line x1="559.0" y1="181.6985" x2="559.0" y2="186.10850000000002" stroke="#1f2fe0" stroke-width="0.8"/>
<line x1="557.2" y1="181.6985" x2="560.8" y2="181.6985" stroke="#1f2fe0" stroke-width="0.8"/>
<line x1="557.2" y1="186.10850000000002" x2="560.8" y2="186.10850000000002" stroke="#1f2fe0" stroke-width="0.8"/>
<line x1="575.5" y1="175.255" x2="575.5" y2="180.64499999999998" stroke="#1f2fe0" stroke-width="0.8"/>
<line x1="573.7" y1="175.255" x2="577.3" y2="175.255" stroke="#1f2fe0" stroke-width="0.8"/>
<line x1="573.7" y1="180.64499999999998" x2="577.3" y2="180.64499999999998" stroke="#1f2fe0" stroke-width="0.8"/>
<line x1="592.0" y1="169.9875" x2="592.0" y2="176.1125" stroke="#1f2fe0" stroke-width="0.8"/>
<line x1="590.2" y1="169.9875" x2="593.8" y2="169.9875" stroke="#1f2fe0" stroke-width="0.8"/>
<line x1="590.2" y1="176.1125" x2="593.8" y2="176.1125" stroke="#1f2fe0" stroke-width="0.8"/>
<line x1="608.5" y1="167.17000000000002" x2="608.5" y2="172.805" stroke="#1f2fe0" stroke-width="0.8"/>
<line x1="606.7" y1="167.17000000000002" x2="610.3" y2="167.17000000000002" stroke="#1f2fe0" stroke-width="0.8"/>
<line x1="606.7" y1="172.805" x2="610.3" y2="172.805" stroke="#1f2fe0" stroke-width="0.8"/>
<circle cx="526.00" cy="196.40" r="1.9" fill="#1f2fe0"/>
<circle cx="542.50" cy="191.79" r="1.9" fill="#1f2fe0"/>
<circle cx="559.00" cy="183.90" r="1.9" fill="#1f2fe0"/>
<circle cx="575.50" cy="177.95" r="1.9" fill="#1f2fe0"/>
<circle cx="592.00" cy="173.05" r="1.9" fill="#1f2fe0"/>
<circle cx="608.50" cy="169.99" r="1.9" fill="#1f2fe0"/>
<polyline points="509.5,200.0 526.0,196.9 542.5,191.4 559.0,186.5 575.5,179.8 592.0,176.1 608.5,173.7" fill="none" stroke="#5cf04a" stroke-width="1.0"/>
<line x1="526.0" y1="195.9575" x2="526.0" y2="197.9175" stroke="#5cf04a" stroke-width="0.8"/>
<line x1="524.2" y1="195.9575" x2="527.8" y2="195.9575" stroke="#5cf04a" stroke-width="0.8"/>
<line x1="524.2" y1="197.9175" x2="527.8" y2="197.9175" stroke="#5cf04a" stroke-width="0.8"/>
<line x1="542.5" y1="190.20000000000002" x2="542.5" y2="192.65" stroke="#5cf04a" stroke-width="0.8"/>
<line x1="540.7" y1="190.20000000000002" x2="544.3" y2="190.20000000000002" stroke="#5cf04a" stroke-width="0.8"/>
<line x1="540.7" y1="192.65" x2="544.3" y2="192.65" stroke="#5cf04a" stroke-width="0.8"/>
<line x1="559.0" y1="184.6875" x2="559.0" y2="188.3625" stroke="#5cf04a" stroke-width="0.8"/>
<line x1="557.2" y1="184.6875" x2="560.8" y2="184.6875" stroke="#5cf04a" stroke-width="0.8"/>
<line x1="557.2" y1="188.3625" x2="560.8" y2="188.3625" stroke="#5cf04a" stroke-width="0.8"/>
<line x1="575.5" y1="177.95" x2="575.5" y2="181.625" stroke="#5cf04a" stroke-width="0.8"/>
<line x1="573.7" y1="177.95" x2="577.3" y2="177.95" stroke="#5cf04a" stroke-width="0.8"/>
<line x1="573.7" y1="181.625" x2="577.3" y2="181.625" stroke="#5cf04a" stroke-width="0.8"/>
<line x1="592.0" y1="173.66250000000002" x2="592.0" y2="178.5625" stroke="#5cf04a" stroke-width="0.8"/>
<line x1="590.2" y1="173.66250000000002" x2="593.8" y2="173.66250000000002" stroke="#5cf04a" stroke-width="0.8"/>
<line x1="590.2" y1="178.5625" x2="593.8" y2="178.5625" stroke="#5cf04a" stroke-width="0.8"/>
<line x1="608.5" y1="171.2125" x2="608.5" y2="176.11249999999998" stroke="#5cf04a" stroke-width="0.8"/>
<line x1="606.7" y1="171.2125" x2="610.3" y2="171.2125" stroke="#5cf04a" stroke-width="0.8"/>
<line x1="606.7" y1="176.11249999999998" x2="610.3" y2="176.11249999999998" stroke="#5cf04a" stroke-width="0.8"/>
<polygon points="526.00,194.66 528.18,198.46 523.82,198.46" fill="#5cf04a"/>
<polygon points="542.50,189.15 544.68,192.95 540.32,192.95" fill="#5cf04a"/>
<polygon points="559.00,184.25 561.18,188.05 556.82,188.05" fill="#5cf04a"/>
<polygon points="575.50,177.51 577.68,181.31 573.32,181.31" fill="#5cf04a"/>
<polygon points="592.00,173.83 594.18,177.63 589.82,177.63" fill="#5cf04a"/>
<polygon points="608.50,171.38 610.68,175.18 606.32,175.18" fill="#5cf04a"/>
<polyline points="509.5,200.0 526.0,188.8 542.5,177.3 559.0,163.8 575.5,153.4 592.0,144.9 608.5,139.4" fill="none" stroke="#ee2a24" stroke-width="1.0"/>
<line x1="526.0" y1="185.12849999999997" x2="526.0" y2="192.4785" stroke="#ee2a24" stroke-width="0.8"/>
<line x1="524.2" y1="185.12849999999997" x2="527.8" y2="185.12849999999997" stroke="#ee2a24" stroke-width="0.8"/>
<line x1="524.2" y1="192.4785" x2="527.8" y2="192.4785" stroke="#ee2a24" stroke-width="0.8"/>
<line x1="542.5" y1="173.01325" x2="542.5" y2="181.58825" stroke="#ee2a24" stroke-width="0.8"/>
<line x1="540.7" y1="173.01325" x2="544.3" y2="173.01325" stroke="#ee2a24" stroke-width="0.8"/>
<line x1="540.7" y1="181.58825" x2="544.3" y2="181.58825" stroke="#ee2a24" stroke-width="0.8"/>
<line x1="559.0" y1="159.51375" x2="559.0" y2="168.08874999999998" stroke="#ee2a24" stroke-width="0.8"/>
<line x1="557.2" y1="159.51375" x2="560.8" y2="159.51375" stroke="#ee2a24" stroke-width="0.8"/>
<line x1="557.2" y1="168.08874999999998" x2="560.8" y2="168.08874999999998" stroke="#ee2a24" stroke-width="0.8"/>
<line x1="575.5" y1="149.1625" x2="575.5" y2="157.73749999999998" stroke="#ee2a24" stroke-width="0.8"/>
<line x1="573.7" y1="149.1625" x2="577.3" y2="149.1625" stroke="#ee2a24" stroke-width="0.8"/>
<line x1="573.7" y1="157.73749999999998" x2="577.3" y2="157.73749999999998" stroke="#ee2a24" stroke-width="0.8"/>
<line x1="592.0" y1="141.2" x2="592.0" y2="148.55" stroke="#ee2a24" stroke-width="0.8"/>
<line x1="590.2" y1="141.2" x2="593.8" y2="141.2" stroke="#ee2a24" stroke-width="0.8"/>
<line x1="590.2" y1="148.55" x2="593.8" y2="148.55" stroke="#ee2a24" stroke-width="0.8"/>
<line x1="608.5" y1="135.32000000000002" x2="608.5" y2="143.405" stroke="#ee2a24" stroke-width="0.8"/>
<line x1="606.7" y1="135.32000000000002" x2="610.3" y2="135.32000000000002" stroke="#ee2a24" stroke-width="0.8"/>
<line x1="606.7" y1="143.405" x2="610.3" y2="143.405" stroke="#ee2a24" stroke-width="0.8"/>
<rect x="524.1" y="186.9" width="3.8" height="3.8" fill="#ee2a24"/>
<rect x="540.6" y="175.4" width="3.8" height="3.8" fill="#ee2a24"/>
<rect x="557.1" y="161.9" width="3.8" height="3.8" fill="#ee2a24"/>
<rect x="573.6" y="151.55" width="3.8" height="3.8" fill="#ee2a24"/>
<rect x="590.1" y="142.97" width="3.8" height="3.8" fill="#ee2a24"/>
<rect x="606.6" y="137.46" width="3.8" height="3.8" fill="#ee2a24"/>
<text x="526.0" y="187.32849999999996" font-family="'Liberation Serif', serif" font-size="8" font-weight="bold" text-anchor="middle" fill="#222">*</text>
<text x="542.5" y="175.21325" font-family="'Liberation Serif', serif" font-size="8" font-weight="bold" text-anchor="middle" fill="#222">*</text>
<text x="559.0" y="161.71374999999998" font-family="'Liberation Serif', serif" font-size="8" font-weight="bold" text-anchor="middle" fill="#222">*</text>
<text x="575.5" y="151.36249999999998" font-family="'Liberation Serif', serif" font-size="8" font-weight="bold" text-anchor="middle" fill="#222">*</text>
<text x="592.0" y="143.39999999999998" font-family="'Liberation Serif', serif" font-size="8" font-weight="bold" text-anchor="middle" fill="#222">*</text>
<text x="608.5" y="137.52" font-family="'Liberation Serif', serif" font-size="8" font-weight="bold" text-anchor="middle" fill="#222">*</text>
<line x1="627.8" y1="131.5" x2="637" y2="131.5" stroke="#1f2fe0" stroke-width="0.9"/>
<circle cx="632.40" cy="131.50" r="1.7" fill="#1f2fe0"/>
<text x="641.2" y="133.6" font-family="'Liberation Serif', serif" font-size="6.9" font-weight="bold" text-anchor="start" fill="#111" textLength="37.5" lengthAdjust="spacingAndGlyphs" stroke="#111" stroke-width="0.22">Control vector</text>
<line x1="627.8" y1="140.2" x2="637" y2="140.2" stroke="#ee2a24" stroke-width="0.9"/>
<rect x="630.7" y="138.5" width="3.4" height="3.4" fill="#ee2a24"/>
<text x="641.2" y="142.4" font-family="'Liberation Serif', serif" font-size="6.9" font-weight="bold" text-anchor="start" fill="#111" textLength="28.4" lengthAdjust="spacingAndGlyphs" stroke="#111" stroke-width="0.22">Casp8 WT</text>
<line x1="627.8" y1="149.5" x2="637" y2="149.5" stroke="#5cf04a" stroke-width="0.9"/>
<polygon points="632.40,147.46 634.36,150.86 630.44,150.86" fill="#5cf04a"/>
<text x="641.2" y="151.4" font-family="'Liberation Serif', serif" font-size="6.9" font-weight="bold" text-anchor="start" fill="#111" textLength="36.8" lengthAdjust="spacingAndGlyphs" stroke="#111" stroke-width="0.22">Casp8 Y380A</text>
<text x="254.2" y="251.6" font-family="'Liberation Sans', sans-serif" font-size="18.3" font-weight="bold" text-anchor="start" fill="#111" stroke="#111" stroke-width="0.5">E</text>
<line x1="294.9" y1="253.1" x2="404" y2="253.1" stroke="#222" stroke-width="0.9" stroke-dasharray="1.1,1.1"/>
<line x1="292.4" y1="253.1" x2="294.9" y2="253.1" stroke="#333" stroke-width="0.8"/>
<text x="291.59999999999997" y="252.79999999999998" font-family="'Liberation Serif', serif" font-size="3.2" font-weight="bold" text-anchor="end" fill="#111" textLength="3.5200000000000005" lengthAdjust="spacingAndGlyphs">10</text>
<text x="287.97999999999996" y="254.828" font-family="'Liberation Serif', serif" font-size="4.8" font-weight="bold" text-anchor="end" fill="#111" textLength="4.4" lengthAdjust="spacingAndGlyphs">10</text>
<line x1="294.9" y1="271.4" x2="404" y2="271.4" stroke="#222" stroke-width="0.9" stroke-dasharray="1.1,1.1"/>
<line x1="292.4" y1="271.4" x2="294.9" y2="271.4" stroke="#333" stroke-width="0.8"/>
<text x="291.59999999999997" y="271.09999999999997" font-family="'Liberation Serif', serif" font-size="3.2" font-weight="bold" text-anchor="end" fill="#111" textLength="1.7600000000000002" lengthAdjust="spacingAndGlyphs">9</text>
<text x="289.73999999999995" y="273.128" font-family="'Liberation Serif', serif" font-size="4.8" font-weight="bold" text-anchor="end" fill="#111" textLength="4.4" lengthAdjust="spacingAndGlyphs">10</text>
<line x1="294.9" y1="289.7" x2="404" y2="289.7" stroke="#222" stroke-width="0.9" stroke-dasharray="1.1,1.1"/>
<line x1="292.4" y1="289.7" x2="294.9" y2="289.7" stroke="#333" stroke-width="0.8"/>
<text x="291.59999999999997" y="289.4" font-family="'Liberation Serif', serif" font-size="3.2" font-weight="bold" text-anchor="end" fill="#111" textLength="1.7600000000000002" lengthAdjust="spacingAndGlyphs">8</text>
<text x="289.73999999999995" y="291.428" font-family="'Liberation Serif', serif" font-size="4.8" font-weight="bold" text-anchor="end" fill="#111" textLength="4.4" lengthAdjust="spacingAndGlyphs">10</text>
<line x1="294.9" y1="308.0" x2="404" y2="308.0" stroke="#222" stroke-width="0.9" stroke-dasharray="1.1,1.1"/>
<line x1="292.4" y1="308.0" x2="294.9" y2="308.0" stroke="#333" stroke-width="0.8"/>
<text x="291.59999999999997" y="307.7" font-family="'Liberation Serif', serif" font-size="3.2" font-weight="bold" text-anchor="end" fill="#111" textLength="1.7600000000000002" lengthAdjust="spacingAndGlyphs">7</text>
<text x="289.73999999999995" y="309.728" font-family="'Liberation Serif', serif" font-size="4.8" font-weight="bold" text-anchor="end" fill="#111" textLength="4.4" lengthAdjust="spacingAndGlyphs">10</text>
<line x1="294.9" y1="326.29999999999995" x2="404" y2="326.29999999999995" stroke="#222" stroke-width="0.9" stroke-dasharray="1.1,1.1"/>
<line x1="292.4" y1="326.29999999999995" x2="294.9" y2="326.29999999999995" stroke="#333" stroke-width="0.8"/>
<text x="291.59999999999997" y="325.99999999999994" font-family="'Liberation Serif', serif" font-size="3.2" font-weight="bold" text-anchor="end" fill="#111" textLength="1.7600000000000002" lengthAdjust="spacingAndGlyphs">6</text>
<text x="289.73999999999995" y="328.02799999999996" font-family="'Liberation Serif', serif" font-size="4.8" font-weight="bold" text-anchor="end" fill="#111" textLength="4.4" lengthAdjust="spacingAndGlyphs">10</text>
<line x1="294.9" y1="344.59999999999997" x2="404" y2="344.59999999999997" stroke="#222" stroke-width="0.9" stroke-dasharray="1.1,1.1"/>
<line x1="292.4" y1="344.59999999999997" x2="294.9" y2="344.59999999999997" stroke="#333" stroke-width="0.8"/>
<text x="291.59999999999997" y="344.29999999999995" font-family="'Liberation Serif', serif" font-size="3.2" font-weight="bold" text-anchor="end" fill="#111" textLength="1.7600000000000002" lengthAdjust="spacingAndGlyphs">5</text>
<text x="289.73999999999995" y="346.328" font-family="'Liberation Serif', serif" font-size="4.8" font-weight="bold" text-anchor="end" fill="#111" textLength="4.4" lengthAdjust="spacingAndGlyphs">10</text>
<line x1="292.4" y1="362.9" x2="294.9" y2="362.9" stroke="#333" stroke-width="0.8"/>
<text x="291.59999999999997" y="362.59999999999997" font-family="'Liberation Serif', serif" font-size="3.2" font-weight="bold" text-anchor="end" fill="#111" textLength="1.7600000000000002" lengthAdjust="spacingAndGlyphs">4</text>
<text x="289.73999999999995" y="364.628" font-family="'Liberation Serif', serif" font-size="4.8" font-weight="bold" text-anchor="end" fill="#111" textLength="4.4" lengthAdjust="spacingAndGlyphs">10</text>
<line x1="307.4" y1="253.1" x2="307.4" y2="362.9" stroke="#222" stroke-width="0.9" stroke-dasharray="1.1,1.1"/>
<line x1="307.4" y1="362.9" x2="307.4" y2="364.9" stroke="#333" stroke-width="0.8"/>
<text x="307.4" y="370.68199999999996" font-family="'Liberation Serif', serif" font-size="5.4" font-weight="bold" text-anchor="middle" fill="#111" textLength="2.5" lengthAdjust="spacingAndGlyphs">7</text>
<line x1="333" y1="253.1" x2="333" y2="362.9" stroke="#222" stroke-width="0.9" stroke-dasharray="1.1,1.1"/>
<line x1="333" y1="362.9" x2="333" y2="364.9" stroke="#333" stroke-width="0.8"/>
<text x="333" y="370.68199999999996" font-family="'Liberation Serif', serif" font-size="5.4" font-weight="bold" text-anchor="middle" fill="#111" textLength="5.0" lengthAdjust="spacingAndGlyphs">21</text>
<line x1="358.5" y1="253.1" x2="358.5" y2="362.9" stroke="#222" stroke-width="0.9" stroke-dasharray="1.1,1.1"/>
<line x1="358.5" y1="362.9" x2="358.5" y2="364.9" stroke="#333" stroke-width="0.8"/>
<text x="358.5" y="370.68199999999996" font-family="'Liberation Serif', serif" font-size="5.4" font-weight="bold" text-anchor="middle" fill="#111" textLength="5.0" lengthAdjust="spacingAndGlyphs">35</text>
<line x1="383.4" y1="253.1" x2="383.4" y2="362.9" stroke="#222" stroke-width="0.9" stroke-dasharray="1.1,1.1"/>
<line x1="383.4" y1="362.9" x2="383.4" y2="364.9" stroke="#333" stroke-width="0.8"/>
<text x="383.4" y="370.68199999999996" font-family="'Liberation Serif', serif" font-size="5.4" font-weight="bold" text-anchor="middle" fill="#111" textLength="5.0" lengthAdjust="spacingAndGlyphs">49</text>
<line x1="294.9" y1="252.1" x2="294.9" y2="363.4" stroke="#333" stroke-width="1.2"/>
<line x1="294.4" y1="362.9" x2="404" y2="362.9" stroke="#333" stroke-width="1.2"/>
<text x="309.9" y="379" font-family="'Liberation Serif', serif" font-size="7.4" font-weight="bold" text-anchor="start" fill="#111" textLength="56.6" lengthAdjust="spacingAndGlyphs" stroke="#111" stroke-width="0.22">Days Postresection</text>
<text transform="translate(278.4,311.4) rotate(-90)" font-family="'Liberation Serif', serif" font-size="8.0" font-weight="bold" text-anchor="middle" fill="#111" textLength="81.6" lengthAdjust="spacingAndGlyphs" stroke="#111" stroke-width="0.22">Tumor Burden (Photons/s)</text>
<polyline points="307.4,343.7 333.0,326.8 358.5,322.1 383.4,311.7" fill="none" stroke="#111" stroke-width="0.85"/>
<line x1="307.4" y1="339.11" x2="307.4" y2="348.26" stroke="#111" stroke-width="0.9"/>
<line x1="305.79999999999995" y1="339.11" x2="309.0" y2="339.11" stroke="#111" stroke-width="0.9"/>
<line x1="305.79999999999995" y1="348.26" x2="309.0" y2="348.26" stroke="#111" stroke-width="0.9"/>
<line x1="333" y1="321.359" x2="333" y2="332.339" stroke="#111" stroke-width="0.9"/>
<line x1="331.4" y1="321.359" x2="334.6" y2="321.359" stroke="#111" stroke-width="0.9"/>
<line x1="331.4" y1="332.339" x2="334.6" y2="332.339" stroke="#111" stroke-width="0.9"/>
<line x1="358.5" y1="312.941" x2="358.5" y2="331.24099999999993" stroke="#111" stroke-width="0.9"/>
<line x1="356.9" y1="312.941" x2="360.1" y2="312.941" stroke="#111" stroke-width="0.9"/>
<line x1="356.9" y1="331.24099999999993" x2="360.1" y2="331.24099999999993" stroke="#111" stroke-width="0.9"/>
<line x1="383.4" y1="306.16999999999996" x2="383.4" y2="317.15" stroke="#111" stroke-width="0.9"/>
<line x1="381.79999999999995" y1="306.16999999999996" x2="385.0" y2="306.16999999999996" stroke="#111" stroke-width="0.9"/>
<line x1="381.79999999999995" y1="317.15" x2="385.0" y2="317.15" stroke="#111" stroke-width="0.9"/>
<rect x="305.9" y="342.19" width="3.0" height="3.0" fill="#111"/>
<rect x="331.5" y="325.35" width="3.0" height="3.0" fill="#111"/>
<rect x="357.0" y="320.59" width="3.0" height="3.0" fill="#111"/>
<rect x="381.9" y="310.16" width="3.0" height="3.0" fill="#111"/>
<polyline points="307.4,344.6 333.0,336.2 358.5,325.8 383.4,309.8" fill="none" stroke="#111" stroke-width="0.85"/>
<line x1="307.4" y1="339.10999999999996" x2="307.4" y2="350.09" stroke="#111" stroke-width="0.9"/>
<line x1="305.79999999999995" y1="339.10999999999996" x2="309.0" y2="339.10999999999996" stroke="#111" stroke-width="0.9"/>
<line x1="305.79999999999995" y1="350.09" x2="309.0" y2="350.09" stroke="#111" stroke-width="0.9"/>
<line x1="333" y1="328.86199999999997" x2="333" y2="345.33199999999994" stroke="#111" stroke-width="0.9"/>
<line x1="331.4" y1="328.86199999999997" x2="334.6" y2="328.86199999999997" stroke="#111" stroke-width="0.9"/>
<line x1="331.4" y1="345.33199999999994" x2="334.6" y2="345.33199999999994" stroke="#111" stroke-width="0.9"/>
<line x1="358.5" y1="316.601" x2="358.5" y2="336.731" stroke="#111" stroke-width="0.9"/>
<line x1="356.9" y1="316.601" x2="360.1" y2="316.601" stroke="#111" stroke-width="0.9"/>
<line x1="356.9" y1="336.731" x2="360.1" y2="336.731" stroke="#111" stroke-width="0.9"/>
<line x1="383.4" y1="304.34" x2="383.4" y2="318.97999999999996" stroke="#111" stroke-width="0.9"/>
<line x1="381.79999999999995" y1="304.34" x2="385.0" y2="304.34" stroke="#111" stroke-width="0.9"/>
<line x1="381.79999999999995" y1="318.97999999999996" x2="385.0" y2="318.97999999999996" stroke="#111" stroke-width="0.9"/>
<polygon points="307.40,342.80 309.12,345.80 305.67,345.80" fill="#111"/>
<polygon points="333.00,334.38 334.73,337.38 331.27,337.38" fill="#111"/>
<polygon points="358.50,323.95 360.23,326.95 356.77,326.95" fill="#111"/>
<polygon points="383.40,308.03 385.12,311.03 381.67,311.03" fill="#111"/>
<polyline points="307.4,337.3 333.0,307.1 358.5,295.2 383.4,273.2" fill="none" stroke="#dc2b2b" stroke-width="0.85"/>
<line x1="307.4" y1="332.705" x2="307.4" y2="340.94" stroke="#dc2b2b" stroke-width="0.9"/>
<line x1="305.79999999999995" y1="332.705" x2="309.0" y2="332.705" stroke="#dc2b2b" stroke-width="0.9"/>
<line x1="305.79999999999995" y1="340.94" x2="309.0" y2="340.94" stroke="#dc2b2b" stroke-width="0.9"/>
<line x1="333" y1="304.34" x2="333" y2="309.83" stroke="#dc2b2b" stroke-width="0.9"/>
<line x1="331.4" y1="304.34" x2="334.6" y2="304.34" stroke="#dc2b2b" stroke-width="0.9"/>
<line x1="331.4" y1="309.83" x2="334.6" y2="309.83" stroke="#dc2b2b" stroke-width="0.9"/>
<line x1="358.5" y1="289.7" x2="358.5" y2="300.68" stroke="#dc2b2b" stroke-width="0.9"/>
<line x1="356.9" y1="289.7" x2="360.1" y2="289.7" stroke="#dc2b2b" stroke-width="0.9"/>
<line x1="356.9" y1="300.68" x2="360.1" y2="300.68" stroke="#dc2b2b" stroke-width="0.9"/>
<line x1="383.4" y1="268.65500000000003" x2="383.4" y2="276.89000000000004" stroke="#dc2b2b" stroke-width="0.9"/>
<line x1="381.79999999999995" y1="268.65500000000003" x2="385.0" y2="268.65500000000003" stroke="#dc2b2b" stroke-width="0.9"/>
<line x1="381.79999999999995" y1="276.89000000000004" x2="385.0" y2="276.89000000000004" stroke="#dc2b2b" stroke-width="0.9"/>
<rect x="305.9" y="335.78" width="3.0" height="3.0" fill="#dc2b2b"/>
<rect x="331.5" y="305.58" width="3.0" height="3.0" fill="#dc2b2b"/>
<rect x="357.0" y="293.69" width="3.0" height="3.0" fill="#dc2b2b"/>
<rect x="381.9" y="271.73" width="3.0" height="3.0" fill="#dc2b2b"/>
<text x="333" y="302.84" font-family="'Liberation Serif', serif" font-size="5" font-weight="bold" text-anchor="middle" fill="#555">#</text>
<text x="358.5" y="288.2" font-family="'Liberation Serif', serif" font-size="5" font-weight="bold" text-anchor="middle" fill="#555">#</text>
<text x="383.4" y="267.15500000000003" font-family="'Liberation Serif', serif" font-size="5" font-weight="bold" text-anchor="middle" fill="#555">#</text>
<line x1="409.5" y1="259.7" x2="417.8" y2="259.7" stroke="#dc2b2b" stroke-width="0.9"/>
<circle cx="413.65" cy="259.70" r="1.6" fill="#dc2b2b"/>
<text x="423" y="261.4" font-family="'Liberation Serif', serif" font-size="6.8" font-weight="bold" text-anchor="start" fill="#111" textLength="18.7" lengthAdjust="spacingAndGlyphs" stroke="#111" stroke-width="0.22">Control</text>
<line x1="409.5" y1="268" x2="417.8" y2="268" stroke="#111" stroke-width="0.9"/>
<rect x="412.05" y="266.4" width="3.2" height="3.2" fill="#111"/>
<text x="423" y="270.3" font-family="'Liberation Serif', serif" font-size="6.8" font-weight="bold" text-anchor="start" fill="#111" textLength="34.9" lengthAdjust="spacingAndGlyphs" stroke="#111" stroke-width="0.22">Casp8 shRNA</text>
<line x1="409.5" y1="275.8" x2="417.8" y2="275.8" stroke="#111" stroke-width="0.9"/>
<polygon points="413.65,273.88 415.49,277.08 411.81,277.08" fill="#111"/>
<text x="423" y="277.9" font-family="'Liberation Serif', serif" font-size="6.8" font-weight="bold" text-anchor="start" fill="#111" textLength="27.8" lengthAdjust="spacingAndGlyphs" stroke="#111" stroke-width="0.22">Src shRNA</text>
<line x1="288" y1="393.3" x2="404.5" y2="393.3" stroke="#222" stroke-width="0.9" stroke-dasharray="1.1,1.1"/>
<line x1="285.5" y1="393.3" x2="288" y2="393.3" stroke="#333" stroke-width="0.8"/>
<text x="285.5" y="393.0" font-family="'Liberation Serif', serif" font-size="3.9" font-weight="bold" text-anchor="end" fill="#111" textLength="4.29" lengthAdjust="spacingAndGlyphs">10</text>
<text x="281.10999999999996" y="395.53200000000004" font-family="'Liberation Serif', serif" font-size="6.2" font-weight="bold" text-anchor="end" fill="#111" textLength="6.0" lengthAdjust="spacingAndGlyphs" stroke="#111" stroke-width="0.22">10</text>
<line x1="288" y1="412.93333333333334" x2="404.5" y2="412.93333333333334" stroke="#222" stroke-width="0.9" stroke-dasharray="1.1,1.1"/>
<line x1="285.5" y1="412.93333333333334" x2="288" y2="412.93333333333334" stroke="#333" stroke-width="0.8"/>
<text x="285.5" y="412.6333333333333" font-family="'Liberation Serif', serif" font-size="3.9" font-weight="bold" text-anchor="end" fill="#111" textLength="2.145" lengthAdjust="spacingAndGlyphs">9</text>
<text x="283.255" y="415.16533333333336" font-family="'Liberation Serif', serif" font-size="6.2" font-weight="bold" text-anchor="end" fill="#111" textLength="6.0" lengthAdjust="spacingAndGlyphs" stroke="#111" stroke-width="0.22">10</text>
<line x1="288" y1="432.56666666666666" x2="404.5" y2="432.56666666666666" stroke="#222" stroke-width="0.9" stroke-dasharray="1.1,1.1"/>
<line x1="285.5" y1="432.56666666666666" x2="288" y2="432.56666666666666" stroke="#333" stroke-width="0.8"/>
<text x="285.5" y="432.26666666666665" font-family="'Liberation Serif', serif" font-size="3.9" font-weight="bold" text-anchor="end" fill="#111" textLength="2.145" lengthAdjust="spacingAndGlyphs">8</text>
<text x="283.255" y="434.7986666666667" font-family="'Liberation Serif', serif" font-size="6.2" font-weight="bold" text-anchor="end" fill="#111" textLength="6.0" lengthAdjust="spacingAndGlyphs" stroke="#111" stroke-width="0.22">10</text>
<line x1="288" y1="452.20000000000005" x2="404.5" y2="452.20000000000005" stroke="#222" stroke-width="0.9" stroke-dasharray="1.1,1.1"/>
<line x1="285.5" y1="452.20000000000005" x2="288" y2="452.20000000000005" stroke="#333" stroke-width="0.8"/>
<text x="285.5" y="451.90000000000003" font-family="'Liberation Serif', serif" font-size="3.9" font-weight="bold" text-anchor="end" fill="#111" textLength="2.145" lengthAdjust="spacingAndGlyphs">7</text>
<text x="283.255" y="454.4320000000001" font-family="'Liberation Serif', serif" font-size="6.2" font-weight="bold" text-anchor="end" fill="#111" textLength="6.0" lengthAdjust="spacingAndGlyphs" stroke="#111" stroke-width="0.22">10</text>
<line x1="288" y1="471.83333333333337" x2="404.5" y2="471.83333333333337" stroke="#222" stroke-width="0.9" stroke-dasharray="1.1,1.1"/>
<line x1="285.5" y1="471.83333333333337" x2="288" y2="471.83333333333337" stroke="#333" stroke-width="0.8"/>
<text x="285.5" y="471.53333333333336" font-family="'Liberation Serif', serif" font-size="3.9" font-weight="bold" text-anchor="end" fill="#111" textLength="2.145" lengthAdjust="spacingAndGlyphs">6</text>
<text x="283.255" y="474.0653333333334" font-family="'Liberation Serif', serif" font-size="6.2" font-weight="bold" text-anchor="end" fill="#111" textLength="6.0" lengthAdjust="spacingAndGlyphs" stroke="#111" stroke-width="0.22">10</text>
<line x1="288" y1="491.4666666666667" x2="404.5" y2="491.4666666666667" stroke="#222" stroke-width="0.9" stroke-dasharray="1.1,1.1"/>
<line x1="285.5" y1="491.4666666666667" x2="288" y2="491.4666666666667" stroke="#333" stroke-width="0.8"/>
<text x="285.5" y="491.1666666666667" font-family="'Liberation Serif', serif" font-size="3.9" font-weight="bold" text-anchor="end" fill="#111" textLength="2.145" lengthAdjust="spacingAndGlyphs">5</text>
<text x="283.255" y="493.6986666666667" font-family="'Liberation Serif', serif" font-size="6.2" font-weight="bold" text-anchor="end" fill="#111" textLength="6.0" lengthAdjust="spacingAndGlyphs" stroke="#111" stroke-width="0.22">10</text>
<line x1="285.5" y1="511.1" x2="288" y2="511.1" stroke="#333" stroke-width="0.8"/>
<text x="285.5" y="510.8" font-family="'Liberation Serif', serif" font-size="3.9" font-weight="bold" text-anchor="end" fill="#111" textLength="2.145" lengthAdjust="spacingAndGlyphs">4</text>
<text x="283.255" y="513.332" font-family="'Liberation Serif', serif" font-size="6.2" font-weight="bold" text-anchor="end" fill="#111" textLength="6.0" lengthAdjust="spacingAndGlyphs" stroke="#111" stroke-width="0.22">10</text>
<line x1="301.6" y1="393.3" x2="301.6" y2="511.1" stroke="#222" stroke-width="0.9" stroke-dasharray="1.1,1.1"/>
<line x1="301.6" y1="511.1" x2="301.6" y2="513.1" stroke="#333" stroke-width="0.8"/>
<text x="301.6" y="519.878" font-family="'Liberation Serif', serif" font-size="6.6" font-weight="bold" text-anchor="middle" fill="#111" textLength="3.3" lengthAdjust="spacingAndGlyphs" stroke="#111" stroke-width="0.22">7</text>
<line x1="329" y1="393.3" x2="329" y2="511.1" stroke="#222" stroke-width="0.9" stroke-dasharray="1.1,1.1"/>
<line x1="329" y1="511.1" x2="329" y2="513.1" stroke="#333" stroke-width="0.8"/>
<text x="329" y="519.878" font-family="'Liberation Serif', serif" font-size="6.6" font-weight="bold" text-anchor="middle" fill="#111" textLength="6.6" lengthAdjust="spacingAndGlyphs" stroke="#111" stroke-width="0.22">21</text>
<line x1="355.9" y1="393.3" x2="355.9" y2="511.1" stroke="#222" stroke-width="0.9" stroke-dasharray="1.1,1.1"/>
<line x1="355.9" y1="511.1" x2="355.9" y2="513.1" stroke="#333" stroke-width="0.8"/>
<text x="355.9" y="519.878" font-family="'Liberation Serif', serif" font-size="6.6" font-weight="bold" text-anchor="middle" fill="#111" textLength="6.6" lengthAdjust="spacingAndGlyphs" stroke="#111" stroke-width="0.22">35</text>
<line x1="383.1" y1="393.3" x2="383.1" y2="511.1" stroke="#222" stroke-width="0.9" stroke-dasharray="1.1,1.1"/>
<line x1="383.1" y1="511.1" x2="383.1" y2="513.1" stroke="#333" stroke-width="0.8"/>
<text x="383.1" y="519.878" font-family="'Liberation Serif', serif" font-size="6.6" font-weight="bold" text-anchor="middle" fill="#111" textLength="6.6" lengthAdjust="spacingAndGlyphs" stroke="#111" stroke-width="0.22">49</text>
<line x1="288" y1="392.3" x2="288" y2="511.6" stroke="#333" stroke-width="1.2"/>
<line x1="287.5" y1="511.1" x2="404.5" y2="511.1" stroke="#333" stroke-width="1.2"/>
<text x="314.7" y="528.6" font-family="'Liberation Serif', serif" font-size="7.4" font-weight="bold" text-anchor="start" fill="#111" textLength="60.9" lengthAdjust="spacingAndGlyphs" stroke="#111" stroke-width="0.22">Days Postresection</text>
<text transform="translate(272.3,453.9) rotate(-90)" font-family="'Liberation Serif', serif" font-size="8.0" font-weight="bold" text-anchor="middle" fill="#111" textLength="89" lengthAdjust="spacingAndGlyphs" stroke="#111" stroke-width="0.22">Tumor Burden (Photons/s)</text>
<polyline points="301.6,472.8 329.0,471.8 355.9,461.2 383.1,451.8" fill="none" stroke="#111" stroke-width="0.85"/>
<line x1="301.6" y1="468.8883333333333" x2="301.6" y2="476.7416666666667" stroke="#111" stroke-width="0.9"/>
<line x1="300.0" y1="468.8883333333333" x2="303.20000000000005" y2="468.8883333333333" stroke="#111" stroke-width="0.9"/>
<line x1="300.0" y1="476.7416666666667" x2="303.20000000000005" y2="476.7416666666667" stroke="#111" stroke-width="0.9"/>
<line x1="329" y1="465.9433333333334" x2="329" y2="477.72333333333336" stroke="#111" stroke-width="0.9"/>
<line x1="327.4" y1="465.9433333333334" x2="330.6" y2="465.9433333333334" stroke="#111" stroke-width="0.9"/>
<line x1="327.4" y1="477.72333333333336" x2="330.6" y2="477.72333333333336" stroke="#111" stroke-width="0.9"/>
<line x1="355.9" y1="455.34133333333335" x2="355.9" y2="467.1213333333333" stroke="#111" stroke-width="0.9"/>
<line x1="354.29999999999995" y1="455.34133333333335" x2="357.5" y2="455.34133333333335" stroke="#111" stroke-width="0.9"/>
<line x1="354.29999999999995" y1="467.1213333333333" x2="357.5" y2="467.1213333333333" stroke="#111" stroke-width="0.9"/>
<line x1="383.1" y1="447.8806666666667" x2="383.1" y2="455.73400000000004" stroke="#111" stroke-width="0.9"/>
<line x1="381.5" y1="447.8806666666667" x2="384.70000000000005" y2="447.8806666666667" stroke="#111" stroke-width="0.9"/>
<line x1="381.5" y1="455.73400000000004" x2="384.70000000000005" y2="455.73400000000004" stroke="#111" stroke-width="0.9"/>
<rect x="300.1" y="471.31" width="3.0" height="3.0" fill="#111"/>
<rect x="327.5" y="470.33" width="3.0" height="3.0" fill="#111"/>
<rect x="354.4" y="459.73" width="3.0" height="3.0" fill="#111"/>
<rect x="381.6" y="450.31" width="3.0" height="3.0" fill="#111"/>
<polyline points="301.6,471.8 329.0,467.9 355.9,452.2 383.1,450.2" fill="none" stroke="#111" stroke-width="0.85"/>
<line x1="301.6" y1="465.9433333333334" x2="301.6" y2="477.72333333333336" stroke="#111" stroke-width="0.9"/>
<line x1="300.0" y1="465.9433333333334" x2="303.20000000000005" y2="465.9433333333334" stroke="#111" stroke-width="0.9"/>
<line x1="300.0" y1="477.72333333333336" x2="303.20000000000005" y2="477.72333333333336" stroke="#111" stroke-width="0.9"/>
<line x1="329" y1="462.0166666666667" x2="329" y2="479.6866666666667" stroke="#111" stroke-width="0.9"/>
<line x1="327.4" y1="462.0166666666667" x2="330.6" y2="462.0166666666667" stroke="#111" stroke-width="0.9"/>
<line x1="327.4" y1="479.6866666666667" x2="330.6" y2="479.6866666666667" stroke="#111" stroke-width="0.9"/>
<line x1="355.9" y1="442.3833333333334" x2="355.9" y2="462.0166666666667" stroke="#111" stroke-width="0.9"/>
<line x1="354.29999999999995" y1="442.3833333333334" x2="357.5" y2="442.3833333333334" stroke="#111" stroke-width="0.9"/>
<line x1="354.29999999999995" y1="462.0166666666667" x2="357.5" y2="462.0166666666667" stroke="#111" stroke-width="0.9"/>
<line x1="383.1" y1="442.3833333333333" x2="383.1" y2="458.09000000000003" stroke="#111" stroke-width="0.9"/>
<line x1="381.5" y1="442.3833333333333" x2="384.70000000000005" y2="442.3833333333333" stroke="#111" stroke-width="0.9"/>
<line x1="381.5" y1="458.09000000000003" x2="384.70000000000005" y2="458.09000000000003" stroke="#111" stroke-width="0.9"/>
<polygon points="301.60,470.03 303.33,473.03 299.88,473.03" fill="#111"/>
<polygon points="329.00,466.11 330.73,469.11 327.27,469.11" fill="#111"/>
<polygon points="355.90,450.40 357.62,453.40 354.17,453.40" fill="#111"/>
<polygon points="383.10,448.44 384.83,451.44 381.38,451.44" fill="#111"/>
<polyline points="301.6,464.0 329.0,451.6 355.9,434.5 383.1,408.0" fill="none" stroke="#dc2b2b" stroke-width="0.85"/>
<line x1="301.6" y1="460.05333333333334" x2="301.6" y2="467.9066666666667" stroke="#dc2b2b" stroke-width="0.9"/>
<line x1="300.0" y1="460.05333333333334" x2="303.20000000000005" y2="460.05333333333334" stroke="#dc2b2b" stroke-width="0.9"/>
<line x1="300.0" y1="467.9066666666667" x2="303.20000000000005" y2="467.9066666666667" stroke="#dc2b2b" stroke-width="0.9"/>
<line x1="329" y1="448.666" x2="329" y2="454.556" stroke="#dc2b2b" stroke-width="0.9"/>
<line x1="327.4" y1="448.666" x2="330.6" y2="448.666" stroke="#dc2b2b" stroke-width="0.9"/>
<line x1="327.4" y1="454.556" x2="330.6" y2="454.556" stroke="#dc2b2b" stroke-width="0.9"/>
<line x1="355.9" y1="428.64" x2="355.9" y2="440.41999999999996" stroke="#dc2b2b" stroke-width="0.9"/>
<line x1="354.29999999999995" y1="428.64" x2="357.5" y2="428.64" stroke="#dc2b2b" stroke-width="0.9"/>
<line x1="354.29999999999995" y1="440.41999999999996" x2="357.5" y2="440.41999999999996" stroke="#dc2b2b" stroke-width="0.9"/>
<line x1="383.1" y1="402.135" x2="383.1" y2="413.91499999999996" stroke="#dc2b2b" stroke-width="0.9"/>
<line x1="381.5" y1="402.135" x2="384.70000000000005" y2="402.135" stroke="#dc2b2b" stroke-width="0.9"/>
<line x1="381.5" y1="413.91499999999996" x2="384.70000000000005" y2="413.91499999999996" stroke="#dc2b2b" stroke-width="0.9"/>
<circle cx="301.60" cy="463.98" r="1.5" fill="#dc2b2b"/>
<circle cx="329.00" cy="451.61" r="1.5" fill="#dc2b2b"/>
<circle cx="355.90" cy="434.53" r="1.5" fill="#dc2b2b"/>
<circle cx="383.10" cy="408.02" r="1.5" fill="#dc2b2b"/>
<text x="329" y="447.166" font-family="'Liberation Serif', serif" font-size="5" font-weight="bold" text-anchor="middle" fill="#555">#</text>
<text x="355.9" y="427.14" font-family="'Liberation Serif', serif" font-size="5" font-weight="bold" text-anchor="middle" fill="#555">#</text>
<text x="383.1" y="400.635" font-family="'Liberation Serif', serif" font-size="5" font-weight="bold" text-anchor="middle" fill="#555">#</text>
<line x1="410.9" y1="400.2" x2="419.4" y2="400.2" stroke="#dc2b2b" stroke-width="0.9"/>
<circle cx="415.15" cy="400.20" r="1.6" fill="#dc2b2b"/>
<text x="423.7" y="402.1" font-family="'Liberation Serif', serif" font-size="6.8" font-weight="bold" text-anchor="start" fill="#111" textLength="28" lengthAdjust="spacingAndGlyphs" stroke="#111" stroke-width="0.22">Casp8 WT</text>
<line x1="410.9" y1="409.4" x2="419.4" y2="409.4" stroke="#111" stroke-width="0.9"/>
<rect x="413.55" y="407.8" width="3.2" height="3.2" fill="#111"/>
<text x="423.7" y="411.7" font-family="'Liberation Serif', serif" font-size="6.8" font-weight="bold" text-anchor="start" fill="#111" textLength="20.4" lengthAdjust="spacingAndGlyphs" stroke="#111" stroke-width="0.22">Control</text>
<line x1="410.9" y1="417.7" x2="419.4" y2="417.7" stroke="#111" stroke-width="0.9"/>
<polygon points="415.15,415.78 416.99,418.98 413.31,418.98" fill="#111"/>
<text x="423.7" y="419.6" font-family="'Liberation Serif', serif" font-size="6.8" font-weight="bold" text-anchor="start" fill="#111" textLength="36.3" lengthAdjust="spacingAndGlyphs" stroke="#111" stroke-width="0.22">Casp8 Y380A</text>
<text x="468.6" y="251.7" font-family="'Liberation Sans', sans-serif" font-size="18.3" font-weight="bold" text-anchor="start" fill="#111" stroke="#111" stroke-width="0.5">F</text>
<line x1="517.2" y1="258.9" x2="517.2" y2="359.7" stroke="#222" stroke-width="1.4"/>
<line x1="516.7" y1="359.7" x2="668" y2="359.7" stroke="#222" stroke-width="1.4"/>
<line x1="512.7" y1="359.7" x2="517.2" y2="359.7" stroke="#222" stroke-width="1.3"/>
<text x="513.9000000000001" y="362.09999999999997" font-family="'Liberation Serif', serif" font-size="7.4" font-weight="bold" text-anchor="end" fill="#111" textLength="4.5" lengthAdjust="spacingAndGlyphs" stroke="#111" stroke-width="0.22">0</text>
<line x1="512.7" y1="317.65" x2="517.2" y2="317.65" stroke="#222" stroke-width="1.3"/>
<text x="513.9000000000001" y="320.04999999999995" font-family="'Liberation Serif', serif" font-size="7.4" font-weight="bold" text-anchor="end" fill="#111" textLength="9.0" lengthAdjust="spacingAndGlyphs" stroke="#111" stroke-width="0.22">50</text>
<line x1="512.7" y1="275.6" x2="517.2" y2="275.6" stroke="#222" stroke-width="1.3"/>
<text x="513.9000000000001" y="278.0" font-family="'Liberation Serif', serif" font-size="7.4" font-weight="bold" text-anchor="end" fill="#111" textLength="13.5" lengthAdjust="spacingAndGlyphs" stroke="#111" stroke-width="0.22">100</text>
<rect x="525.5" y="275.6" width="33.89999999999998" height="84.09999999999997" fill="#f22a1c" stroke="#111" stroke-width="1.2"/>
<line x1="542.45" y1="359.7" x2="542.45" y2="361.9" stroke="#222" stroke-width="0.9"/>
<rect x="576.2" y="342.88" width="34.09999999999991" height="16.819999999999993" fill="#f46766" stroke="#111" stroke-width="1.2"/>
<line x1="593.25" y1="359.7" x2="593.25" y2="361.9" stroke="#222" stroke-width="0.9"/>
<rect x="627.6" y="342.88" width="33.39999999999998" height="16.819999999999993" fill="#fdd2cd" stroke="#111" stroke-width="1.2"/>
<line x1="644.3" y1="359.7" x2="644.3" y2="361.9" stroke="#222" stroke-width="0.9"/>
<text x="519.2" y="369.5" font-family="'Liberation Serif', serif" font-size="6.9" font-weight="bold" text-anchor="start" fill="#111" textLength="46.7" lengthAdjust="spacingAndGlyphs" stroke="#111" stroke-width="0.22">Control shRNA</text>
<text x="571.8" y="369.5" font-family="'Liberation Serif', serif" font-size="6.9" font-weight="bold" text-anchor="start" fill="#111" textLength="42.5" lengthAdjust="spacingAndGlyphs" stroke="#111" stroke-width="0.22">Casp8 shRNA</text>
<text x="626.7" y="369.5" font-family="'Liberation Serif', serif" font-size="6.9" font-weight="bold" text-anchor="start" fill="#111" textLength="33.6" lengthAdjust="spacingAndGlyphs" stroke="#111" stroke-width="0.22">Src shRNA</text>
<text transform="translate(497.3,308.8) rotate(-90)" font-family="'Liberation Serif', serif" font-size="7.3" font-weight="bold" text-anchor="middle" fill="#111" textLength="84.8" lengthAdjust="spacingAndGlyphs" stroke="#111" stroke-width="0.22">Metastatic incidence (%)</text>
<polyline points="541.4,270 541.4,248.6 644.2,248.6 644.2,299" fill="none" stroke="#7c7c7c" stroke-width="0.9"/>
<polyline points="541.4,258.9 594.4,258.9 594.4,299" fill="none" stroke="#7c7c7c" stroke-width="0.9"/>
<polygon points="595.70,250.50 596.41,252.13 598.17,252.30 596.84,253.47 597.23,255.20 595.70,254.30 594.17,255.20 594.56,253.47 593.23,252.30 594.99,252.13" fill="#111"/>
<polygon points="569.10,262.20 569.81,263.83 571.57,264.00 570.24,265.17 570.63,266.90 569.10,266.00 567.57,266.90 567.96,265.17 566.63,264.00 568.39,263.83" fill="#111"/>
<line x1="517.3" y1="380.4" x2="517.3" y2="480.7" stroke="#222" stroke-width="1.4"/>
<line x1="516.8" y1="480.7" x2="668" y2="480.7" stroke="#222" stroke-width="1.4"/>
<line x1="512.8" y1="480.7" x2="517.3" y2="480.7" stroke="#222" stroke-width="1.3"/>
<text x="514.0" y="483.09999999999997" font-family="'Liberation Serif', serif" font-size="7.4" font-weight="bold" text-anchor="end" fill="#111" textLength="4.5" lengthAdjust="spacingAndGlyphs" stroke="#111" stroke-width="0.22">0</text>
<line x1="512.8" y1="438.79999999999995" x2="517.3" y2="438.79999999999995" stroke="#222" stroke-width="1.3"/>
<text x="514.0" y="441.19999999999993" font-family="'Liberation Serif', serif" font-size="7.4" font-weight="bold" text-anchor="end" fill="#111" textLength="9.0" lengthAdjust="spacingAndGlyphs" stroke="#111" stroke-width="0.22">50</text>
<line x1="512.8" y1="396.9" x2="517.3" y2="396.9" stroke="#222" stroke-width="1.3"/>
<text x="514.0" y="399.29999999999995" font-family="'Liberation Serif', serif" font-size="7.4" font-weight="bold" text-anchor="end" fill="#111" textLength="13.5" lengthAdjust="spacingAndGlyphs" stroke="#111" stroke-width="0.22">100</text>
<rect x="525.5" y="472.32" width="33.89999999999998" height="8.38" fill="#5858f2" stroke="#111" stroke-width="1.2"/>
<line x1="542.45" y1="480.7" x2="542.45" y2="482.9" stroke="#222" stroke-width="0.9"/>
<rect x="576.2" y="396.9" width="34.09999999999991" height="83.80000000000001" fill="#0c1a9e" stroke="#111" stroke-width="1.2"/>
<line x1="593.25" y1="480.7" x2="593.25" y2="482.9" stroke="#222" stroke-width="0.9"/>
<rect x="627.6" y="472.32" width="33.39999999999998" height="8.38" fill="#c9c8fa" stroke="#111" stroke-width="1.2"/>
<line x1="644.3" y1="480.7" x2="644.3" y2="482.9" stroke="#222" stroke-width="0.9"/>
<text x="520.8" y="491.2" font-family="'Liberation Serif', serif" font-size="6.9" font-weight="bold" text-anchor="start" fill="#111" textLength="43.3" lengthAdjust="spacingAndGlyphs" stroke="#111" stroke-width="0.22">Control vector</text>
<text x="576.9" y="491.2" font-family="'Liberation Serif', serif" font-size="6.9" font-weight="bold" text-anchor="start" fill="#111" textLength="32" lengthAdjust="spacingAndGlyphs" stroke="#111" stroke-width="0.22">Casp8 WT</text>
<text x="623" y="491.2" font-family="'Liberation Serif', serif" font-size="6.9" font-weight="bold" text-anchor="start" fill="#111" textLength="41.1" lengthAdjust="spacingAndGlyphs" stroke="#111" stroke-width="0.22">Casp8 Y380A</text>
<text transform="translate(496.3,429.6) rotate(-90)" font-family="'Liberation Serif', serif" font-size="7.3" font-weight="bold" text-anchor="middle" fill="#111" textLength="85.4" lengthAdjust="spacingAndGlyphs" stroke="#111" stroke-width="0.22">Metastatic incidence (%)</text>
<polyline points="537.3,431 537.3,382.2 643.9,382.2 643.9,433.6" fill="none" stroke="#7c7c7c" stroke-width="0.9"/>
<line x1="590.9" y1="382.2" x2="590.9" y2="394" stroke="#7c7c7c" stroke-width="0.9"/>
<polygon points="562.60,384.90 563.31,386.53 565.07,386.70 563.74,387.87 564.13,389.60 562.60,388.70 561.07,389.60 561.46,387.87 560.13,386.70 561.89,386.53" fill="#111"/>
<polygon points="617.50,384.90 618.21,386.53 619.97,386.70 618.64,387.87 619.03,389.60 617.50,388.70 615.97,389.60 616.36,387.87 615.03,386.70 616.79,386.53" fill="#111"/>
</svg></body></html>
